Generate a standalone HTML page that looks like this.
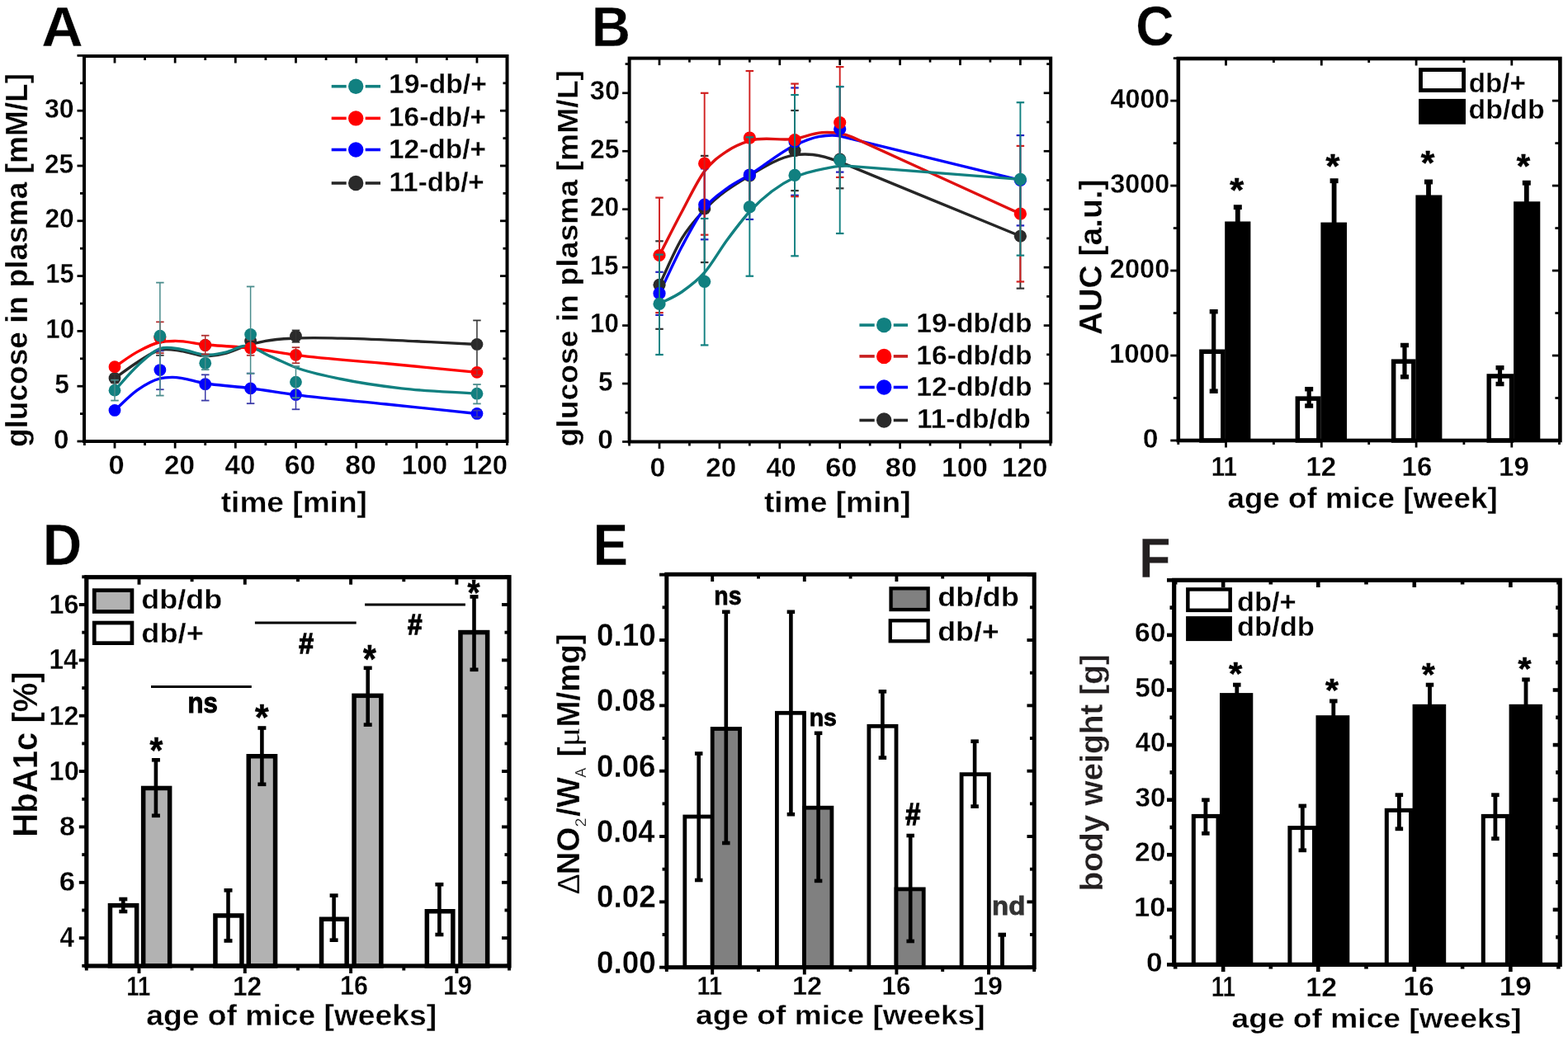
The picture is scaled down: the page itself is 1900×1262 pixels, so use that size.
<!DOCTYPE html>
<html><head><meta charset="utf-8"><title>Figure</title>
<style>html,body{margin:0;padding:0;background:#fff;}svg{display:block;}text{font-family:'Liberation Sans', Arial, Helvetica, sans-serif;} text.e{stroke:#fff;stroke-width:0.3px;}</style>
</head><body>
<svg width="1900" height="1262" viewBox="0 0 1900 1262">
<rect width="1900" height="1262" fill="#fff"/>
<text class="e" transform="translate(50.16,55.70) scale(1.0083,1)" font-size="69.33" font-weight="bold" fill="#000" >A</text>
<text class="e" transform="translate(716.72,55.70) scale(0.9437,1)" font-size="69.33" font-weight="bold" fill="#000" >B</text>
<text class="e" transform="translate(1376.28,55.32) scale(0.9219,1)" font-size="69.35" font-weight="bold" fill="#000" >C</text>
<text class="e" transform="translate(51.72,685.20) scale(0.9395,1)" font-size="69.77" font-weight="bold" fill="#000" >D</text>
<text class="e" transform="translate(718.77,685.20) scale(0.9069,1)" font-size="69.77" font-weight="bold" fill="#000" >E</text>
<text class="e" transform="translate(1379.89,700.20) scale(0.9070,1)" font-size="69.33" font-weight="bold" fill="#231f20" >F</text>
<path d="M139.00,497.46 C148.27,489.18 157.53,479.08 166.80,472.61 C175.82,466.31 184.85,461.05 193.87,458.85 C198.75,457.66 203.62,457.50 208.50,457.38 C221.91,457.04 235.33,462.69 248.74,464.73 C267.03,467.50 285.32,468.42 303.61,470.74 C321.90,473.05 340.19,476.24 358.48,478.62 C395.06,483.39 431.64,486.17 468.22,489.98 C504.80,493.78 541.38,497.64 577.96,501.47" fill="none" stroke="#0000ff" stroke-width="3.4" stroke-linejoin="round"/>
<path d="M139.00,458.58 C148.27,452.03 157.53,444.72 166.80,438.94 C175.82,433.32 184.85,426.41 193.87,424.25 C202.41,422.20 210.94,424.40 219.48,425.45 C229.23,426.65 238.99,431.34 248.74,431.59 C257.28,431.81 265.81,430.39 274.35,428.12 C281.66,426.18 288.98,422.17 296.29,419.84 C304.83,417.12 313.36,415.00 321.90,413.42 C334.09,411.17 346.29,410.75 358.48,410.08 C376.77,409.08 395.06,409.80 413.35,410.08 C443.83,410.55 474.32,412.44 504.80,413.82 C529.19,414.94 553.57,416.23 577.96,417.43" fill="none" stroke="#262626" stroke-width="3.4" stroke-linejoin="round"/>
<path d="M139.00,444.69 C148.27,438.59 157.53,431.41 166.80,426.38 C175.82,421.49 184.85,416.72 193.87,414.76 C199.97,413.44 206.06,413.48 212.16,413.42 C224.35,413.32 236.55,416.58 248.74,417.83 C267.03,419.71 285.32,419.88 303.61,421.97 C321.90,424.07 340.19,427.94 358.48,430.39 C395.06,435.29 431.64,437.32 468.22,440.81 C504.80,444.31 541.38,447.85 577.96,451.37" fill="none" stroke="#ff0000" stroke-width="3.4" stroke-linejoin="round"/>
<path d="M139.00,473.14 C148.27,463.17 157.53,451.71 166.80,443.22 C175.82,434.95 184.85,425.83 193.87,422.64 C202.41,419.63 210.94,422.37 219.48,423.44 C229.23,424.67 238.99,429.90 248.74,430.26 C257.28,430.57 265.81,428.83 274.35,426.78 C281.66,425.03 288.98,419.85 296.29,419.57 C307.27,419.15 318.24,428.06 329.22,432.66 C338.97,436.75 348.73,441.83 358.48,445.49 C376.77,452.34 395.06,455.63 413.35,459.52 C437.74,464.70 462.12,468.02 486.51,470.87 C516.99,474.43 547.48,475.06 577.96,477.15" fill="none" stroke="#118080" stroke-width="3.4" stroke-linejoin="round"/>
<circle cx="139.00" cy="497.46" r="7.4" fill="#0000ff"/>
<circle cx="193.87" cy="448.56" r="7.4" fill="#0000ff"/>
<circle cx="248.74" cy="465.66" r="7.4" fill="#0000ff"/>
<circle cx="303.61" cy="470.87" r="7.4" fill="#0000ff"/>
<circle cx="358.48" cy="478.62" r="7.4" fill="#0000ff"/>
<circle cx="577.96" cy="501.47" r="7.4" fill="#0000ff"/>
<line x1="193.87" y1="425.45" x2="193.87" y2="472.21" stroke="#3a3aa8" stroke-width="1.5" stroke-linecap="butt"/>
<line x1="189.12" y1="425.45" x2="198.62" y2="425.45" stroke="#3a3aa8" stroke-width="1.8" stroke-linecap="butt"/>
<line x1="189.12" y1="472.21" x2="198.62" y2="472.21" stroke="#3a3aa8" stroke-width="1.8" stroke-linecap="butt"/>
<line x1="248.74" y1="454.31" x2="248.74" y2="485.57" stroke="#3a3aa8" stroke-width="1.5" stroke-linecap="butt"/>
<line x1="243.99" y1="454.31" x2="253.49" y2="454.31" stroke="#3a3aa8" stroke-width="1.8" stroke-linecap="butt"/>
<line x1="243.99" y1="485.57" x2="253.49" y2="485.57" stroke="#3a3aa8" stroke-width="1.8" stroke-linecap="butt"/>
<line x1="303.61" y1="452.57" x2="303.61" y2="489.18" stroke="#3a3aa8" stroke-width="1.5" stroke-linecap="butt"/>
<line x1="298.86" y1="452.57" x2="308.36" y2="452.57" stroke="#3a3aa8" stroke-width="1.8" stroke-linecap="butt"/>
<line x1="298.86" y1="489.18" x2="308.36" y2="489.18" stroke="#3a3aa8" stroke-width="1.8" stroke-linecap="butt"/>
<line x1="358.48" y1="461.52" x2="358.48" y2="496.26" stroke="#3a3aa8" stroke-width="1.5" stroke-linecap="butt"/>
<line x1="353.73" y1="461.52" x2="363.23" y2="461.52" stroke="#3a3aa8" stroke-width="1.8" stroke-linecap="butt"/>
<line x1="353.73" y1="496.26" x2="363.23" y2="496.26" stroke="#3a3aa8" stroke-width="1.8" stroke-linecap="butt"/>
<line x1="577.96" y1="497.59" x2="577.96" y2="505.61" stroke="#3a3aa8" stroke-width="1.5" stroke-linecap="butt"/>
<line x1="573.21" y1="497.59" x2="582.71" y2="497.59" stroke="#3a3aa8" stroke-width="1.8" stroke-linecap="butt"/>
<line x1="573.21" y1="505.61" x2="582.71" y2="505.61" stroke="#3a3aa8" stroke-width="1.8" stroke-linecap="butt"/>
<circle cx="139.00" cy="458.58" r="7.4" fill="#2a2a2a"/>
<circle cx="193.87" cy="408.75" r="7.4" fill="#2a2a2a"/>
<circle cx="248.74" cy="418.50" r="7.4" fill="#2a2a2a"/>
<circle cx="303.61" cy="413.42" r="7.4" fill="#2a2a2a"/>
<circle cx="358.48" cy="407.41" r="7.4" fill="#2a2a2a"/>
<circle cx="577.96" cy="417.43" r="7.4" fill="#2a2a2a"/>
<line x1="139.00" y1="453.50" x2="139.00" y2="464.19" stroke="#333333" stroke-width="1.5" stroke-linecap="butt"/>
<line x1="134.25" y1="453.50" x2="143.75" y2="453.50" stroke="#333333" stroke-width="1.8" stroke-linecap="butt"/>
<line x1="134.25" y1="464.19" x2="143.75" y2="464.19" stroke="#333333" stroke-width="1.8" stroke-linecap="butt"/>
<line x1="193.87" y1="414.76" x2="193.87" y2="430.79" stroke="#333333" stroke-width="1.5" stroke-linecap="butt"/>
<line x1="189.12" y1="414.76" x2="198.62" y2="414.76" stroke="#333333" stroke-width="1.8" stroke-linecap="butt"/>
<line x1="189.12" y1="430.79" x2="198.62" y2="430.79" stroke="#333333" stroke-width="1.8" stroke-linecap="butt"/>
<line x1="303.61" y1="402.74" x2="303.61" y2="420.10" stroke="#333333" stroke-width="1.5" stroke-linecap="butt"/>
<line x1="298.86" y1="402.74" x2="308.36" y2="402.74" stroke="#333333" stroke-width="1.8" stroke-linecap="butt"/>
<line x1="298.86" y1="420.10" x2="308.36" y2="420.10" stroke="#333333" stroke-width="1.8" stroke-linecap="butt"/>
<line x1="358.48" y1="400.46" x2="358.48" y2="414.76" stroke="#333333" stroke-width="1.5" stroke-linecap="butt"/>
<line x1="353.73" y1="400.46" x2="363.23" y2="400.46" stroke="#333333" stroke-width="1.8" stroke-linecap="butt"/>
<line x1="353.73" y1="414.76" x2="363.23" y2="414.76" stroke="#333333" stroke-width="1.8" stroke-linecap="butt"/>
<line x1="577.96" y1="388.44" x2="577.96" y2="446.82" stroke="#333333" stroke-width="1.5" stroke-linecap="butt"/>
<line x1="573.21" y1="388.44" x2="582.71" y2="388.44" stroke="#333333" stroke-width="1.8" stroke-linecap="butt"/>
<line x1="573.21" y1="446.82" x2="582.71" y2="446.82" stroke="#333333" stroke-width="1.8" stroke-linecap="butt"/>
<circle cx="139.00" cy="444.69" r="7.4" fill="#ff0000"/>
<circle cx="193.87" cy="409.42" r="7.4" fill="#ff0000"/>
<circle cx="248.74" cy="418.50" r="7.4" fill="#ff0000"/>
<circle cx="303.61" cy="421.97" r="7.4" fill="#ff0000"/>
<circle cx="358.48" cy="430.39" r="7.4" fill="#ff0000"/>
<circle cx="577.96" cy="451.37" r="7.4" fill="#ff0000"/>
<line x1="193.87" y1="390.31" x2="193.87" y2="428.12" stroke="#b03030" stroke-width="1.5" stroke-linecap="butt"/>
<line x1="189.12" y1="390.31" x2="198.62" y2="390.31" stroke="#b03030" stroke-width="1.8" stroke-linecap="butt"/>
<line x1="189.12" y1="428.12" x2="198.62" y2="428.12" stroke="#b03030" stroke-width="1.8" stroke-linecap="butt"/>
<line x1="248.74" y1="406.74" x2="248.74" y2="429.46" stroke="#b03030" stroke-width="1.5" stroke-linecap="butt"/>
<line x1="243.99" y1="406.74" x2="253.49" y2="406.74" stroke="#b03030" stroke-width="1.8" stroke-linecap="butt"/>
<line x1="243.99" y1="429.46" x2="253.49" y2="429.46" stroke="#b03030" stroke-width="1.8" stroke-linecap="butt"/>
<line x1="303.61" y1="412.09" x2="303.61" y2="430.79" stroke="#b03030" stroke-width="1.5" stroke-linecap="butt"/>
<line x1="298.86" y1="412.09" x2="308.36" y2="412.09" stroke="#b03030" stroke-width="1.8" stroke-linecap="butt"/>
<line x1="298.86" y1="430.79" x2="308.36" y2="430.79" stroke="#b03030" stroke-width="1.8" stroke-linecap="butt"/>
<line x1="358.48" y1="421.17" x2="358.48" y2="440.28" stroke="#b03030" stroke-width="1.5" stroke-linecap="butt"/>
<line x1="353.73" y1="421.17" x2="363.23" y2="421.17" stroke="#b03030" stroke-width="1.8" stroke-linecap="butt"/>
<line x1="353.73" y1="440.28" x2="363.23" y2="440.28" stroke="#b03030" stroke-width="1.8" stroke-linecap="butt"/>
<line x1="577.96" y1="448.16" x2="577.96" y2="454.84" stroke="#b03030" stroke-width="1.5" stroke-linecap="butt"/>
<line x1="573.21" y1="448.16" x2="582.71" y2="448.16" stroke="#b03030" stroke-width="1.8" stroke-linecap="butt"/>
<line x1="573.21" y1="454.84" x2="582.71" y2="454.84" stroke="#b03030" stroke-width="1.8" stroke-linecap="butt"/>
<circle cx="139.00" cy="473.14" r="7.4" fill="#118080"/>
<circle cx="193.87" cy="407.14" r="7.4" fill="#118080"/>
<circle cx="248.74" cy="440.28" r="7.4" fill="#118080"/>
<circle cx="303.61" cy="405.41" r="7.4" fill="#118080"/>
<circle cx="358.48" cy="463.12" r="7.4" fill="#118080"/>
<circle cx="577.96" cy="477.15" r="7.4" fill="#118080"/>
<line x1="139.00" y1="460.72" x2="139.00" y2="485.57" stroke="#4a8c8c" stroke-width="1.5" stroke-linecap="butt"/>
<line x1="134.25" y1="460.72" x2="143.75" y2="460.72" stroke="#4a8c8c" stroke-width="1.8" stroke-linecap="butt"/>
<line x1="134.25" y1="485.57" x2="143.75" y2="485.57" stroke="#4a8c8c" stroke-width="1.8" stroke-linecap="butt"/>
<line x1="193.87" y1="342.62" x2="193.87" y2="479.56" stroke="#4a8c8c" stroke-width="1.5" stroke-linecap="butt"/>
<line x1="189.12" y1="342.62" x2="198.62" y2="342.62" stroke="#4a8c8c" stroke-width="1.8" stroke-linecap="butt"/>
<line x1="189.12" y1="479.56" x2="198.62" y2="479.56" stroke="#4a8c8c" stroke-width="1.8" stroke-linecap="butt"/>
<line x1="248.74" y1="432.13" x2="248.74" y2="448.16" stroke="#4a8c8c" stroke-width="1.5" stroke-linecap="butt"/>
<line x1="243.99" y1="432.13" x2="253.49" y2="432.13" stroke="#4a8c8c" stroke-width="1.8" stroke-linecap="butt"/>
<line x1="243.99" y1="448.16" x2="253.49" y2="448.16" stroke="#4a8c8c" stroke-width="1.8" stroke-linecap="butt"/>
<line x1="303.61" y1="347.43" x2="303.61" y2="452.84" stroke="#4a8c8c" stroke-width="1.5" stroke-linecap="butt"/>
<line x1="298.86" y1="347.43" x2="308.36" y2="347.43" stroke="#4a8c8c" stroke-width="1.8" stroke-linecap="butt"/>
<line x1="298.86" y1="452.84" x2="308.36" y2="452.84" stroke="#4a8c8c" stroke-width="1.8" stroke-linecap="butt"/>
<line x1="358.48" y1="444.02" x2="358.48" y2="482.23" stroke="#4a8c8c" stroke-width="1.5" stroke-linecap="butt"/>
<line x1="353.73" y1="444.02" x2="363.23" y2="444.02" stroke="#4a8c8c" stroke-width="1.8" stroke-linecap="butt"/>
<line x1="353.73" y1="482.23" x2="363.23" y2="482.23" stroke="#4a8c8c" stroke-width="1.8" stroke-linecap="butt"/>
<line x1="577.96" y1="466.06" x2="577.96" y2="489.44" stroke="#4a8c8c" stroke-width="1.5" stroke-linecap="butt"/>
<line x1="573.21" y1="466.06" x2="582.71" y2="466.06" stroke="#4a8c8c" stroke-width="1.8" stroke-linecap="butt"/>
<line x1="573.21" y1="489.44" x2="582.71" y2="489.44" stroke="#4a8c8c" stroke-width="1.8" stroke-linecap="butt"/>
<rect x="102.00" y="68.00" width="512.50" height="467.00" fill="none" stroke="#000" stroke-width="4"/>
<line x1="93.50" y1="535.00" x2="102.00" y2="535.00" stroke="#000" stroke-width="2.8" stroke-linecap="butt"/>
<line x1="614.50" y1="535.00" x2="606.00" y2="535.00" stroke="#000" stroke-width="2.8" stroke-linecap="butt"/>
<line x1="93.50" y1="468.20" x2="102.00" y2="468.20" stroke="#000" stroke-width="2.8" stroke-linecap="butt"/>
<line x1="614.50" y1="468.20" x2="606.00" y2="468.20" stroke="#000" stroke-width="2.8" stroke-linecap="butt"/>
<line x1="93.50" y1="401.40" x2="102.00" y2="401.40" stroke="#000" stroke-width="2.8" stroke-linecap="butt"/>
<line x1="614.50" y1="401.40" x2="606.00" y2="401.40" stroke="#000" stroke-width="2.8" stroke-linecap="butt"/>
<line x1="93.50" y1="334.60" x2="102.00" y2="334.60" stroke="#000" stroke-width="2.8" stroke-linecap="butt"/>
<line x1="614.50" y1="334.60" x2="606.00" y2="334.60" stroke="#000" stroke-width="2.8" stroke-linecap="butt"/>
<line x1="93.50" y1="267.80" x2="102.00" y2="267.80" stroke="#000" stroke-width="2.8" stroke-linecap="butt"/>
<line x1="614.50" y1="267.80" x2="606.00" y2="267.80" stroke="#000" stroke-width="2.8" stroke-linecap="butt"/>
<line x1="93.50" y1="201.00" x2="102.00" y2="201.00" stroke="#000" stroke-width="2.8" stroke-linecap="butt"/>
<line x1="614.50" y1="201.00" x2="606.00" y2="201.00" stroke="#000" stroke-width="2.8" stroke-linecap="butt"/>
<line x1="93.50" y1="134.20" x2="102.00" y2="134.20" stroke="#000" stroke-width="2.8" stroke-linecap="butt"/>
<line x1="614.50" y1="134.20" x2="606.00" y2="134.20" stroke="#000" stroke-width="2.8" stroke-linecap="butt"/>
<line x1="93.50" y1="67.40" x2="102.00" y2="67.40" stroke="#000" stroke-width="2.8" stroke-linecap="butt"/>
<line x1="614.50" y1="67.40" x2="606.00" y2="67.40" stroke="#000" stroke-width="2.8" stroke-linecap="butt"/>
<line x1="97.00" y1="501.60" x2="102.00" y2="501.60" stroke="#000" stroke-width="2.8" stroke-linecap="butt"/>
<line x1="614.50" y1="501.60" x2="609.50" y2="501.60" stroke="#000" stroke-width="2.8" stroke-linecap="butt"/>
<line x1="97.00" y1="434.80" x2="102.00" y2="434.80" stroke="#000" stroke-width="2.8" stroke-linecap="butt"/>
<line x1="614.50" y1="434.80" x2="609.50" y2="434.80" stroke="#000" stroke-width="2.8" stroke-linecap="butt"/>
<line x1="97.00" y1="368.00" x2="102.00" y2="368.00" stroke="#000" stroke-width="2.8" stroke-linecap="butt"/>
<line x1="614.50" y1="368.00" x2="609.50" y2="368.00" stroke="#000" stroke-width="2.8" stroke-linecap="butt"/>
<line x1="97.00" y1="301.20" x2="102.00" y2="301.20" stroke="#000" stroke-width="2.8" stroke-linecap="butt"/>
<line x1="614.50" y1="301.20" x2="609.50" y2="301.20" stroke="#000" stroke-width="2.8" stroke-linecap="butt"/>
<line x1="97.00" y1="234.40" x2="102.00" y2="234.40" stroke="#000" stroke-width="2.8" stroke-linecap="butt"/>
<line x1="614.50" y1="234.40" x2="609.50" y2="234.40" stroke="#000" stroke-width="2.8" stroke-linecap="butt"/>
<line x1="97.00" y1="167.60" x2="102.00" y2="167.60" stroke="#000" stroke-width="2.8" stroke-linecap="butt"/>
<line x1="614.50" y1="167.60" x2="609.50" y2="167.60" stroke="#000" stroke-width="2.8" stroke-linecap="butt"/>
<line x1="97.00" y1="100.80" x2="102.00" y2="100.80" stroke="#000" stroke-width="2.8" stroke-linecap="butt"/>
<line x1="614.50" y1="100.80" x2="609.50" y2="100.80" stroke="#000" stroke-width="2.8" stroke-linecap="butt"/>
<line x1="139.00" y1="535.00" x2="139.00" y2="543.50" stroke="#000" stroke-width="2.8" stroke-linecap="butt"/>
<line x1="139.00" y1="68.00" x2="139.00" y2="76.50" stroke="#000" stroke-width="2.8" stroke-linecap="butt"/>
<line x1="212.16" y1="535.00" x2="212.16" y2="543.50" stroke="#000" stroke-width="2.8" stroke-linecap="butt"/>
<line x1="212.16" y1="68.00" x2="212.16" y2="76.50" stroke="#000" stroke-width="2.8" stroke-linecap="butt"/>
<line x1="285.32" y1="535.00" x2="285.32" y2="543.50" stroke="#000" stroke-width="2.8" stroke-linecap="butt"/>
<line x1="285.32" y1="68.00" x2="285.32" y2="76.50" stroke="#000" stroke-width="2.8" stroke-linecap="butt"/>
<line x1="358.48" y1="535.00" x2="358.48" y2="543.50" stroke="#000" stroke-width="2.8" stroke-linecap="butt"/>
<line x1="358.48" y1="68.00" x2="358.48" y2="76.50" stroke="#000" stroke-width="2.8" stroke-linecap="butt"/>
<line x1="431.64" y1="535.00" x2="431.64" y2="543.50" stroke="#000" stroke-width="2.8" stroke-linecap="butt"/>
<line x1="431.64" y1="68.00" x2="431.64" y2="76.50" stroke="#000" stroke-width="2.8" stroke-linecap="butt"/>
<line x1="504.80" y1="535.00" x2="504.80" y2="543.50" stroke="#000" stroke-width="2.8" stroke-linecap="butt"/>
<line x1="504.80" y1="68.00" x2="504.80" y2="76.50" stroke="#000" stroke-width="2.8" stroke-linecap="butt"/>
<line x1="577.96" y1="535.00" x2="577.96" y2="543.50" stroke="#000" stroke-width="2.8" stroke-linecap="butt"/>
<line x1="577.96" y1="68.00" x2="577.96" y2="76.50" stroke="#000" stroke-width="2.8" stroke-linecap="butt"/>
<line x1="102.42" y1="535.00" x2="102.42" y2="540.00" stroke="#000" stroke-width="2.8" stroke-linecap="butt"/>
<line x1="102.42" y1="68.00" x2="102.42" y2="73.00" stroke="#000" stroke-width="2.8" stroke-linecap="butt"/>
<line x1="175.58" y1="535.00" x2="175.58" y2="540.00" stroke="#000" stroke-width="2.8" stroke-linecap="butt"/>
<line x1="175.58" y1="68.00" x2="175.58" y2="73.00" stroke="#000" stroke-width="2.8" stroke-linecap="butt"/>
<line x1="248.74" y1="535.00" x2="248.74" y2="540.00" stroke="#000" stroke-width="2.8" stroke-linecap="butt"/>
<line x1="248.74" y1="68.00" x2="248.74" y2="73.00" stroke="#000" stroke-width="2.8" stroke-linecap="butt"/>
<line x1="321.90" y1="535.00" x2="321.90" y2="540.00" stroke="#000" stroke-width="2.8" stroke-linecap="butt"/>
<line x1="321.90" y1="68.00" x2="321.90" y2="73.00" stroke="#000" stroke-width="2.8" stroke-linecap="butt"/>
<line x1="395.06" y1="535.00" x2="395.06" y2="540.00" stroke="#000" stroke-width="2.8" stroke-linecap="butt"/>
<line x1="395.06" y1="68.00" x2="395.06" y2="73.00" stroke="#000" stroke-width="2.8" stroke-linecap="butt"/>
<line x1="468.22" y1="535.00" x2="468.22" y2="540.00" stroke="#000" stroke-width="2.8" stroke-linecap="butt"/>
<line x1="468.22" y1="68.00" x2="468.22" y2="73.00" stroke="#000" stroke-width="2.8" stroke-linecap="butt"/>
<line x1="541.38" y1="535.00" x2="541.38" y2="540.00" stroke="#000" stroke-width="2.8" stroke-linecap="butt"/>
<line x1="541.38" y1="68.00" x2="541.38" y2="73.00" stroke="#000" stroke-width="2.8" stroke-linecap="butt"/>
<line x1="614.54" y1="535.00" x2="614.54" y2="540.00" stroke="#000" stroke-width="2.8" stroke-linecap="butt"/>
<line x1="614.54" y1="68.00" x2="614.54" y2="73.00" stroke="#000" stroke-width="2.8" stroke-linecap="butt"/>
<text class="e" transform="translate(64.89,543.67) scale(0.9968,1)" font-size="33.33" font-weight="bold" fill="#000" >0</text>
<text class="e" transform="translate(66.22,476.87) scale(0.9389,1)" font-size="33.82" font-weight="bold" fill="#000" >5</text>
<text class="e" transform="translate(55.22,410.07) scale(0.9433,1)" font-size="33.33" font-weight="bold" fill="#000" >10</text>
<text class="e" transform="translate(55.26,343.27) scale(0.9118,1)" font-size="33.82" font-weight="bold" fill="#000" >15</text>
<text class="e" transform="translate(54.40,276.47) scale(0.9551,1)" font-size="33.33" font-weight="bold" fill="#000" >20</text>
<text class="e" transform="translate(53.90,209.67) scale(0.9517,1)" font-size="33.33" font-weight="bold" fill="#000" >25</text>
<text class="e" transform="translate(53.96,142.83) scale(0.9636,1)" font-size="33.26" font-weight="bold" fill="#000" >30</text>
<text class="e" transform="translate(131.44,575.17) scale(1.0303,1)" font-size="33.47" font-weight="bold" fill="#000" >0</text>
<text class="e" transform="translate(199.05,575.17) scale(0.9944,1)" font-size="33.47" font-weight="bold" fill="#000" >20</text>
<text class="e" transform="translate(272.60,575.17) scale(0.9873,1)" font-size="33.47" font-weight="bold" fill="#000" >40</text>
<text class="e" transform="translate(344.66,575.17) scale(1.0107,1)" font-size="33.47" font-weight="bold" fill="#000" >60</text>
<text class="e" transform="translate(418.13,575.17) scale(1.0088,1)" font-size="33.47" font-weight="bold" fill="#000" >80</text>
<text class="e" transform="translate(486.81,575.17) scale(0.9912,1)" font-size="33.47" font-weight="bold" fill="#000" >100</text>
<text class="e" transform="translate(560.13,575.17) scale(0.9816,1)" font-size="33.47" font-weight="bold" fill="#000" >120</text>
<line x1="401.70" y1="104.70" x2="419.70" y2="104.70" stroke="#118080" stroke-width="3.6" stroke-linecap="butt"/>
<line x1="442.70" y1="104.70" x2="461.00" y2="104.70" stroke="#118080" stroke-width="3.6" stroke-linecap="butt"/>
<circle cx="431.20" cy="104.70" r="9.2" fill="#118080"/>
<text class="e" transform="translate(470.98,113.20) scale(0.9968,1)" font-size="33.8" font-weight="bold" fill="#000" >19-db/+</text>
<line x1="401.70" y1="143.40" x2="419.70" y2="143.40" stroke="#ff0000" stroke-width="3.6" stroke-linecap="butt"/>
<line x1="442.70" y1="143.40" x2="461.00" y2="143.40" stroke="#ff0000" stroke-width="3.6" stroke-linecap="butt"/>
<circle cx="431.20" cy="143.40" r="9.2" fill="#ff0000"/>
<text class="e" transform="translate(470.99,152.90) scale(0.9907,1)" font-size="33.8" font-weight="bold" fill="#000" >16-db/+</text>
<line x1="401.70" y1="181.50" x2="419.70" y2="181.50" stroke="#0000ff" stroke-width="3.6" stroke-linecap="butt"/>
<line x1="442.70" y1="181.50" x2="461.00" y2="181.50" stroke="#0000ff" stroke-width="3.6" stroke-linecap="butt"/>
<circle cx="431.20" cy="181.50" r="9.2" fill="#0000ff"/>
<text class="e" transform="translate(470.99,191.60) scale(0.9907,1)" font-size="33.8" font-weight="bold" fill="#000" >12-db/+</text>
<line x1="401.70" y1="222.00" x2="419.70" y2="222.00" stroke="#262626" stroke-width="3.6" stroke-linecap="butt"/>
<line x1="442.70" y1="222.00" x2="461.00" y2="222.00" stroke="#262626" stroke-width="3.6" stroke-linecap="butt"/>
<circle cx="431.20" cy="222.00" r="9.2" fill="#2a2a2a"/>
<text class="e" transform="translate(471.61,231.50) scale(0.9804,1)" font-size="33.8" font-weight="bold" fill="#000" >11-db/+</text>
<text class="e" transform="translate(33.25,542.12) rotate(-90) scale(1.0275,1)" font-size="36.09" font-weight="bold" fill="#000">glucose in plasma [mM/L]</text>
<text class="e" transform="translate(267.75,621.14) scale(1.0608,1)" font-size="34.97" font-weight="bold" fill="#000" >time [min]</text>
<path d="M799.00,345.28 C808.11,326.50 817.23,304.07 826.34,288.93 C835.45,273.78 844.56,264.38 853.67,254.40 C871.90,234.44 890.12,223.92 908.35,212.84 C926.58,201.75 944.80,190.53 963.02,187.90 C970.31,186.85 977.61,186.82 984.89,187.48 C998.75,188.73 1012.60,194.18 1026.45,199.88 C1096.43,228.67 1166.42,257.46 1236.40,286.25" fill="none" stroke="#262626" stroke-width="3.4" stroke-linejoin="round"/>
<path d="M799.00,355.71 C808.11,336.74 817.23,316.02 826.34,298.79 C835.45,281.55 844.56,264.03 853.67,252.29 C862.79,240.55 871.90,235.05 881.01,228.34 C890.12,221.62 899.24,217.61 908.35,211.99 C926.58,200.75 944.80,184.66 963.02,176.20 C972.75,171.69 982.46,167.41 992.18,165.64 C1000.57,164.10 1008.95,162.88 1017.34,164.93 C1090.36,182.78 1163.38,200.63 1236.40,218.48" fill="none" stroke="#0000ff" stroke-width="3.4" stroke-linejoin="round"/>
<path d="M799.00,309.50 C808.11,291.84 817.23,273.50 826.34,256.52 C835.45,239.54 844.56,219.84 853.67,207.63 C862.79,195.41 871.90,189.40 881.01,183.25 C890.12,177.10 899.24,173.63 908.35,170.71 C926.58,164.87 944.80,171.26 963.02,168.31 C973.96,166.55 984.89,161.28 995.83,160.71 C1008.22,160.06 1020.62,160.68 1033.01,166.34 C1100.81,197.29 1168.60,228.24 1236.40,259.20" fill="none" stroke="#e01010" stroke-width="3.4" stroke-linejoin="round"/>
<path d="M799.00,368.39 C808.11,363.51 817.23,360.06 826.34,353.74 C835.45,347.42 844.56,340.94 853.67,330.49 C862.79,320.04 871.90,303.37 881.01,291.04 C890.12,278.71 899.24,266.50 908.35,256.52 C926.58,236.56 944.80,223.66 963.02,214.95 C975.17,209.14 987.33,206.72 999.48,204.38 C1008.47,202.66 1017.46,200.45 1026.45,201.14 C1096.43,206.55 1166.42,211.95 1236.40,217.35" fill="none" stroke="#118080" stroke-width="3.4" stroke-linejoin="round"/>
<circle cx="799.00" cy="345.28" r="7.6" fill="#2a2a2a"/>
<circle cx="853.67" cy="253.00" r="7.6" fill="#2a2a2a"/>
<circle cx="908.35" cy="212.84" r="7.6" fill="#2a2a2a"/>
<circle cx="963.02" cy="182.55" r="7.6" fill="#2a2a2a"/>
<circle cx="1017.70" cy="193.11" r="7.6" fill="#2a2a2a"/>
<circle cx="1236.40" cy="286.25" r="7.6" fill="#2a2a2a"/>
<line x1="799.00" y1="292.31" x2="799.00" y2="398.83" stroke="#333333" stroke-width="1.9" stroke-linecap="butt"/>
<line x1="794.25" y1="292.31" x2="803.75" y2="292.31" stroke="#333333" stroke-width="2.1999999999999997" stroke-linecap="butt"/>
<line x1="794.25" y1="398.83" x2="803.75" y2="398.83" stroke="#333333" stroke-width="2.1999999999999997" stroke-linecap="butt"/>
<line x1="853.67" y1="188.89" x2="853.67" y2="318.09" stroke="#333333" stroke-width="1.9" stroke-linecap="butt"/>
<line x1="848.92" y1="188.89" x2="858.42" y2="188.89" stroke="#333333" stroke-width="2.1999999999999997" stroke-linecap="butt"/>
<line x1="848.92" y1="318.09" x2="858.42" y2="318.09" stroke="#333333" stroke-width="2.1999999999999997" stroke-linecap="butt"/>
<line x1="908.35" y1="171.98" x2="908.35" y2="253.70" stroke="#333333" stroke-width="1.9" stroke-linecap="butt"/>
<line x1="903.60" y1="171.98" x2="913.10" y2="171.98" stroke="#333333" stroke-width="2.1999999999999997" stroke-linecap="butt"/>
<line x1="903.60" y1="253.70" x2="913.10" y2="253.70" stroke="#333333" stroke-width="2.1999999999999997" stroke-linecap="butt"/>
<line x1="963.02" y1="133.94" x2="963.02" y2="231.16" stroke="#333333" stroke-width="1.9" stroke-linecap="butt"/>
<line x1="958.27" y1="133.94" x2="967.77" y2="133.94" stroke="#333333" stroke-width="2.1999999999999997" stroke-linecap="butt"/>
<line x1="958.27" y1="231.16" x2="967.77" y2="231.16" stroke="#333333" stroke-width="2.1999999999999997" stroke-linecap="butt"/>
<line x1="1017.70" y1="157.89" x2="1017.70" y2="228.34" stroke="#333333" stroke-width="1.9" stroke-linecap="butt"/>
<line x1="1012.95" y1="157.89" x2="1022.45" y2="157.89" stroke="#333333" stroke-width="2.1999999999999997" stroke-linecap="butt"/>
<line x1="1012.95" y1="228.34" x2="1022.45" y2="228.34" stroke="#333333" stroke-width="2.1999999999999997" stroke-linecap="butt"/>
<line x1="1236.40" y1="222.70" x2="1236.40" y2="349.65" stroke="#333333" stroke-width="1.9" stroke-linecap="butt"/>
<line x1="1231.65" y1="222.70" x2="1241.15" y2="222.70" stroke="#333333" stroke-width="2.1999999999999997" stroke-linecap="butt"/>
<line x1="1231.65" y1="349.65" x2="1241.15" y2="349.65" stroke="#333333" stroke-width="2.1999999999999997" stroke-linecap="butt"/>
<circle cx="799.00" cy="355.71" r="7.6" fill="#0000ff"/>
<circle cx="853.67" cy="248.06" r="7.6" fill="#0000ff"/>
<circle cx="908.35" cy="211.99" r="7.6" fill="#0000ff"/>
<circle cx="963.02" cy="171.98" r="7.6" fill="#0000ff"/>
<circle cx="1017.70" cy="156.48" r="7.6" fill="#0000ff"/>
<circle cx="1236.40" cy="218.48" r="7.6" fill="#0000ff"/>
<line x1="799.00" y1="329.79" x2="799.00" y2="381.92" stroke="#2020c0" stroke-width="1.9" stroke-linecap="butt"/>
<line x1="794.25" y1="329.79" x2="803.75" y2="329.79" stroke="#2020c0" stroke-width="2.1999999999999997" stroke-linecap="butt"/>
<line x1="794.25" y1="381.92" x2="803.75" y2="381.92" stroke="#2020c0" stroke-width="2.1999999999999997" stroke-linecap="butt"/>
<line x1="853.67" y1="204.38" x2="853.67" y2="290.33" stroke="#2020c0" stroke-width="1.9" stroke-linecap="butt"/>
<line x1="848.92" y1="204.38" x2="858.42" y2="204.38" stroke="#2020c0" stroke-width="2.1999999999999997" stroke-linecap="butt"/>
<line x1="848.92" y1="290.33" x2="858.42" y2="290.33" stroke="#2020c0" stroke-width="2.1999999999999997" stroke-linecap="butt"/>
<line x1="908.35" y1="162.12" x2="908.35" y2="265.96" stroke="#2020c0" stroke-width="1.9" stroke-linecap="butt"/>
<line x1="903.60" y1="162.12" x2="913.10" y2="162.12" stroke="#2020c0" stroke-width="2.1999999999999997" stroke-linecap="butt"/>
<line x1="903.60" y1="265.96" x2="913.10" y2="265.96" stroke="#2020c0" stroke-width="2.1999999999999997" stroke-linecap="butt"/>
<line x1="963.02" y1="106.46" x2="963.02" y2="236.79" stroke="#2020c0" stroke-width="1.9" stroke-linecap="butt"/>
<line x1="958.27" y1="106.46" x2="967.77" y2="106.46" stroke="#2020c0" stroke-width="2.1999999999999997" stroke-linecap="butt"/>
<line x1="958.27" y1="236.79" x2="967.77" y2="236.79" stroke="#2020c0" stroke-width="2.1999999999999997" stroke-linecap="butt"/>
<line x1="1017.70" y1="105.05" x2="1017.70" y2="208.61" stroke="#2020c0" stroke-width="1.9" stroke-linecap="butt"/>
<line x1="1012.95" y1="105.05" x2="1022.45" y2="105.05" stroke="#2020c0" stroke-width="2.1999999999999997" stroke-linecap="butt"/>
<line x1="1012.95" y1="208.61" x2="1022.45" y2="208.61" stroke="#2020c0" stroke-width="2.1999999999999997" stroke-linecap="butt"/>
<line x1="1236.40" y1="164.09" x2="1236.40" y2="273.43" stroke="#2020c0" stroke-width="1.9" stroke-linecap="butt"/>
<line x1="1231.65" y1="164.09" x2="1241.15" y2="164.09" stroke="#2020c0" stroke-width="2.1999999999999997" stroke-linecap="butt"/>
<line x1="1231.65" y1="273.43" x2="1241.15" y2="273.43" stroke="#2020c0" stroke-width="2.1999999999999997" stroke-linecap="butt"/>
<circle cx="799.00" cy="309.50" r="7.6" fill="#ff0000"/>
<circle cx="853.67" cy="198.19" r="7.6" fill="#ff0000"/>
<circle cx="908.35" cy="167.05" r="7.6" fill="#ff0000"/>
<circle cx="963.02" cy="169.58" r="7.6" fill="#ff0000"/>
<circle cx="1017.70" cy="148.59" r="7.6" fill="#ff0000"/>
<circle cx="1236.40" cy="259.20" r="7.6" fill="#ff0000"/>
<line x1="799.00" y1="239.61" x2="799.00" y2="379.10" stroke="#d02020" stroke-width="1.9" stroke-linecap="butt"/>
<line x1="794.25" y1="239.61" x2="803.75" y2="239.61" stroke="#d02020" stroke-width="2.1999999999999997" stroke-linecap="butt"/>
<line x1="794.25" y1="379.10" x2="803.75" y2="379.10" stroke="#d02020" stroke-width="2.1999999999999997" stroke-linecap="butt"/>
<line x1="853.67" y1="112.80" x2="853.67" y2="284.70" stroke="#d02020" stroke-width="1.9" stroke-linecap="butt"/>
<line x1="848.92" y1="112.80" x2="858.42" y2="112.80" stroke="#d02020" stroke-width="2.1999999999999997" stroke-linecap="butt"/>
<line x1="848.92" y1="284.70" x2="858.42" y2="284.70" stroke="#d02020" stroke-width="2.1999999999999997" stroke-linecap="butt"/>
<line x1="908.35" y1="86.03" x2="908.35" y2="248.06" stroke="#d02020" stroke-width="1.9" stroke-linecap="butt"/>
<line x1="903.60" y1="86.03" x2="913.10" y2="86.03" stroke="#d02020" stroke-width="2.1999999999999997" stroke-linecap="butt"/>
<line x1="903.60" y1="248.06" x2="913.10" y2="248.06" stroke="#d02020" stroke-width="2.1999999999999997" stroke-linecap="butt"/>
<line x1="963.02" y1="101.53" x2="963.02" y2="238.20" stroke="#d02020" stroke-width="1.9" stroke-linecap="butt"/>
<line x1="958.27" y1="101.53" x2="967.77" y2="101.53" stroke="#d02020" stroke-width="2.1999999999999997" stroke-linecap="butt"/>
<line x1="958.27" y1="238.20" x2="967.77" y2="238.20" stroke="#d02020" stroke-width="2.1999999999999997" stroke-linecap="butt"/>
<line x1="1017.70" y1="81.10" x2="1017.70" y2="214.95" stroke="#d02020" stroke-width="1.9" stroke-linecap="butt"/>
<line x1="1012.95" y1="81.10" x2="1022.45" y2="81.10" stroke="#d02020" stroke-width="2.1999999999999997" stroke-linecap="butt"/>
<line x1="1012.95" y1="214.95" x2="1022.45" y2="214.95" stroke="#d02020" stroke-width="2.1999999999999997" stroke-linecap="butt"/>
<line x1="1236.40" y1="176.91" x2="1236.40" y2="341.48" stroke="#d02020" stroke-width="1.9" stroke-linecap="butt"/>
<line x1="1231.65" y1="176.91" x2="1241.15" y2="176.91" stroke="#d02020" stroke-width="2.1999999999999997" stroke-linecap="butt"/>
<line x1="1231.65" y1="341.48" x2="1241.15" y2="341.48" stroke="#d02020" stroke-width="2.1999999999999997" stroke-linecap="butt"/>
<circle cx="799.00" cy="368.39" r="7.6" fill="#118080"/>
<circle cx="853.67" cy="341.34" r="7.6" fill="#118080"/>
<circle cx="908.35" cy="250.88" r="7.6" fill="#118080"/>
<circle cx="963.02" cy="212.42" r="7.6" fill="#118080"/>
<circle cx="1017.70" cy="194.10" r="7.6" fill="#118080"/>
<circle cx="1236.40" cy="217.35" r="7.6" fill="#118080"/>
<line x1="799.00" y1="308.65" x2="799.00" y2="429.97" stroke="#118080" stroke-width="1.9" stroke-linecap="butt"/>
<line x1="794.25" y1="308.65" x2="803.75" y2="308.65" stroke="#118080" stroke-width="2.1999999999999997" stroke-linecap="butt"/>
<line x1="794.25" y1="429.97" x2="803.75" y2="429.97" stroke="#118080" stroke-width="2.1999999999999997" stroke-linecap="butt"/>
<line x1="853.67" y1="264.97" x2="853.67" y2="418.41" stroke="#118080" stroke-width="1.9" stroke-linecap="butt"/>
<line x1="848.92" y1="264.97" x2="858.42" y2="264.97" stroke="#118080" stroke-width="2.1999999999999997" stroke-linecap="butt"/>
<line x1="848.92" y1="418.41" x2="858.42" y2="418.41" stroke="#118080" stroke-width="2.1999999999999997" stroke-linecap="butt"/>
<line x1="908.35" y1="166.34" x2="908.35" y2="334.72" stroke="#118080" stroke-width="1.9" stroke-linecap="butt"/>
<line x1="903.60" y1="166.34" x2="913.10" y2="166.34" stroke="#118080" stroke-width="2.1999999999999997" stroke-linecap="butt"/>
<line x1="903.60" y1="334.72" x2="913.10" y2="334.72" stroke="#118080" stroke-width="2.1999999999999997" stroke-linecap="butt"/>
<line x1="963.02" y1="115.05" x2="963.02" y2="310.34" stroke="#118080" stroke-width="1.9" stroke-linecap="butt"/>
<line x1="958.27" y1="115.05" x2="967.77" y2="115.05" stroke="#118080" stroke-width="2.1999999999999997" stroke-linecap="butt"/>
<line x1="958.27" y1="310.34" x2="967.77" y2="310.34" stroke="#118080" stroke-width="2.1999999999999997" stroke-linecap="butt"/>
<line x1="1017.70" y1="105.05" x2="1017.70" y2="283.01" stroke="#118080" stroke-width="1.9" stroke-linecap="butt"/>
<line x1="1012.95" y1="105.05" x2="1022.45" y2="105.05" stroke="#118080" stroke-width="2.1999999999999997" stroke-linecap="butt"/>
<line x1="1012.95" y1="283.01" x2="1022.45" y2="283.01" stroke="#118080" stroke-width="2.1999999999999997" stroke-linecap="butt"/>
<line x1="1236.40" y1="124.21" x2="1236.40" y2="309.64" stroke="#118080" stroke-width="1.9" stroke-linecap="butt"/>
<line x1="1231.65" y1="124.21" x2="1241.15" y2="124.21" stroke="#118080" stroke-width="2.1999999999999997" stroke-linecap="butt"/>
<line x1="1231.65" y1="309.64" x2="1241.15" y2="309.64" stroke="#118080" stroke-width="2.1999999999999997" stroke-linecap="butt"/>
<rect x="762.60" y="70.60" width="510.60" height="464.90" fill="none" stroke="#000" stroke-width="4"/>
<line x1="754.10" y1="535.50" x2="762.60" y2="535.50" stroke="#000" stroke-width="2.7" stroke-linecap="butt"/>
<line x1="1273.20" y1="535.50" x2="1264.70" y2="535.50" stroke="#000" stroke-width="2.7" stroke-linecap="butt"/>
<line x1="754.10" y1="465.05" x2="762.60" y2="465.05" stroke="#000" stroke-width="2.7" stroke-linecap="butt"/>
<line x1="1273.20" y1="465.05" x2="1264.70" y2="465.05" stroke="#000" stroke-width="2.7" stroke-linecap="butt"/>
<line x1="754.10" y1="394.60" x2="762.60" y2="394.60" stroke="#000" stroke-width="2.7" stroke-linecap="butt"/>
<line x1="1273.20" y1="394.60" x2="1264.70" y2="394.60" stroke="#000" stroke-width="2.7" stroke-linecap="butt"/>
<line x1="754.10" y1="324.15" x2="762.60" y2="324.15" stroke="#000" stroke-width="2.7" stroke-linecap="butt"/>
<line x1="1273.20" y1="324.15" x2="1264.70" y2="324.15" stroke="#000" stroke-width="2.7" stroke-linecap="butt"/>
<line x1="754.10" y1="253.70" x2="762.60" y2="253.70" stroke="#000" stroke-width="2.7" stroke-linecap="butt"/>
<line x1="1273.20" y1="253.70" x2="1264.70" y2="253.70" stroke="#000" stroke-width="2.7" stroke-linecap="butt"/>
<line x1="754.10" y1="183.25" x2="762.60" y2="183.25" stroke="#000" stroke-width="2.7" stroke-linecap="butt"/>
<line x1="1273.20" y1="183.25" x2="1264.70" y2="183.25" stroke="#000" stroke-width="2.7" stroke-linecap="butt"/>
<line x1="754.10" y1="112.80" x2="762.60" y2="112.80" stroke="#000" stroke-width="2.7" stroke-linecap="butt"/>
<line x1="1273.20" y1="112.80" x2="1264.70" y2="112.80" stroke="#000" stroke-width="2.7" stroke-linecap="butt"/>
<line x1="757.60" y1="500.27" x2="762.60" y2="500.27" stroke="#000" stroke-width="2.7" stroke-linecap="butt"/>
<line x1="1273.20" y1="500.27" x2="1268.20" y2="500.27" stroke="#000" stroke-width="2.7" stroke-linecap="butt"/>
<line x1="757.60" y1="429.82" x2="762.60" y2="429.82" stroke="#000" stroke-width="2.7" stroke-linecap="butt"/>
<line x1="1273.20" y1="429.82" x2="1268.20" y2="429.82" stroke="#000" stroke-width="2.7" stroke-linecap="butt"/>
<line x1="757.60" y1="359.38" x2="762.60" y2="359.38" stroke="#000" stroke-width="2.7" stroke-linecap="butt"/>
<line x1="1273.20" y1="359.38" x2="1268.20" y2="359.38" stroke="#000" stroke-width="2.7" stroke-linecap="butt"/>
<line x1="757.60" y1="288.93" x2="762.60" y2="288.93" stroke="#000" stroke-width="2.7" stroke-linecap="butt"/>
<line x1="1273.20" y1="288.93" x2="1268.20" y2="288.93" stroke="#000" stroke-width="2.7" stroke-linecap="butt"/>
<line x1="757.60" y1="218.48" x2="762.60" y2="218.48" stroke="#000" stroke-width="2.7" stroke-linecap="butt"/>
<line x1="1273.20" y1="218.48" x2="1268.20" y2="218.48" stroke="#000" stroke-width="2.7" stroke-linecap="butt"/>
<line x1="757.60" y1="148.02" x2="762.60" y2="148.02" stroke="#000" stroke-width="2.7" stroke-linecap="butt"/>
<line x1="1273.20" y1="148.02" x2="1268.20" y2="148.02" stroke="#000" stroke-width="2.7" stroke-linecap="butt"/>
<line x1="757.60" y1="77.57" x2="762.60" y2="77.57" stroke="#000" stroke-width="2.7" stroke-linecap="butt"/>
<line x1="1273.20" y1="77.57" x2="1268.20" y2="77.57" stroke="#000" stroke-width="2.7" stroke-linecap="butt"/>
<line x1="799.00" y1="535.50" x2="799.00" y2="544.00" stroke="#000" stroke-width="2.7" stroke-linecap="butt"/>
<line x1="799.00" y1="70.60" x2="799.00" y2="79.10" stroke="#000" stroke-width="2.7" stroke-linecap="butt"/>
<line x1="871.90" y1="535.50" x2="871.90" y2="544.00" stroke="#000" stroke-width="2.7" stroke-linecap="butt"/>
<line x1="871.90" y1="70.60" x2="871.90" y2="79.10" stroke="#000" stroke-width="2.7" stroke-linecap="butt"/>
<line x1="944.80" y1="535.50" x2="944.80" y2="544.00" stroke="#000" stroke-width="2.7" stroke-linecap="butt"/>
<line x1="944.80" y1="70.60" x2="944.80" y2="79.10" stroke="#000" stroke-width="2.7" stroke-linecap="butt"/>
<line x1="1017.70" y1="535.50" x2="1017.70" y2="544.00" stroke="#000" stroke-width="2.7" stroke-linecap="butt"/>
<line x1="1017.70" y1="70.60" x2="1017.70" y2="79.10" stroke="#000" stroke-width="2.7" stroke-linecap="butt"/>
<line x1="1090.60" y1="535.50" x2="1090.60" y2="544.00" stroke="#000" stroke-width="2.7" stroke-linecap="butt"/>
<line x1="1090.60" y1="70.60" x2="1090.60" y2="79.10" stroke="#000" stroke-width="2.7" stroke-linecap="butt"/>
<line x1="1163.50" y1="535.50" x2="1163.50" y2="544.00" stroke="#000" stroke-width="2.7" stroke-linecap="butt"/>
<line x1="1163.50" y1="70.60" x2="1163.50" y2="79.10" stroke="#000" stroke-width="2.7" stroke-linecap="butt"/>
<line x1="1236.40" y1="535.50" x2="1236.40" y2="544.00" stroke="#000" stroke-width="2.7" stroke-linecap="butt"/>
<line x1="1236.40" y1="70.60" x2="1236.40" y2="79.10" stroke="#000" stroke-width="2.7" stroke-linecap="butt"/>
<line x1="762.55" y1="535.50" x2="762.55" y2="540.50" stroke="#000" stroke-width="2.7" stroke-linecap="butt"/>
<line x1="762.55" y1="70.60" x2="762.55" y2="75.60" stroke="#000" stroke-width="2.7" stroke-linecap="butt"/>
<line x1="835.45" y1="535.50" x2="835.45" y2="540.50" stroke="#000" stroke-width="2.7" stroke-linecap="butt"/>
<line x1="835.45" y1="70.60" x2="835.45" y2="75.60" stroke="#000" stroke-width="2.7" stroke-linecap="butt"/>
<line x1="908.35" y1="535.50" x2="908.35" y2="540.50" stroke="#000" stroke-width="2.7" stroke-linecap="butt"/>
<line x1="908.35" y1="70.60" x2="908.35" y2="75.60" stroke="#000" stroke-width="2.7" stroke-linecap="butt"/>
<line x1="981.25" y1="535.50" x2="981.25" y2="540.50" stroke="#000" stroke-width="2.7" stroke-linecap="butt"/>
<line x1="981.25" y1="70.60" x2="981.25" y2="75.60" stroke="#000" stroke-width="2.7" stroke-linecap="butt"/>
<line x1="1054.15" y1="535.50" x2="1054.15" y2="540.50" stroke="#000" stroke-width="2.7" stroke-linecap="butt"/>
<line x1="1054.15" y1="70.60" x2="1054.15" y2="75.60" stroke="#000" stroke-width="2.7" stroke-linecap="butt"/>
<line x1="1127.05" y1="535.50" x2="1127.05" y2="540.50" stroke="#000" stroke-width="2.7" stroke-linecap="butt"/>
<line x1="1127.05" y1="70.60" x2="1127.05" y2="75.60" stroke="#000" stroke-width="2.7" stroke-linecap="butt"/>
<line x1="1199.95" y1="535.50" x2="1199.95" y2="540.50" stroke="#000" stroke-width="2.7" stroke-linecap="butt"/>
<line x1="1199.95" y1="70.60" x2="1199.95" y2="75.60" stroke="#000" stroke-width="2.7" stroke-linecap="butt"/>
<line x1="1272.85" y1="535.50" x2="1272.85" y2="540.50" stroke="#000" stroke-width="2.7" stroke-linecap="butt"/>
<line x1="1272.85" y1="70.60" x2="1272.85" y2="75.60" stroke="#000" stroke-width="2.7" stroke-linecap="butt"/>
<text class="e" transform="translate(724.18,544.17) scale(1.0031,1)" font-size="33.33" font-weight="bold" fill="#000" >0</text>
<text class="e" transform="translate(725.04,473.72) scale(0.9271,1)" font-size="33.82" font-weight="bold" fill="#000" >5</text>
<text class="e" transform="translate(715.03,403.27) scale(0.9373,1)" font-size="33.33" font-weight="bold" fill="#000" >10</text>
<text class="e" transform="translate(715.06,332.82) scale(0.9118,1)" font-size="33.82" font-weight="bold" fill="#000" >15</text>
<text class="e" transform="translate(714.90,262.37) scale(0.9551,1)" font-size="33.33" font-weight="bold" fill="#000" >20</text>
<text class="e" transform="translate(714.89,191.92) scale(0.9574,1)" font-size="33.33" font-weight="bold" fill="#000" >25</text>
<text class="e" transform="translate(714.75,121.43) scale(0.9808,1)" font-size="33.26" font-weight="bold" fill="#000" >30</text>
<text class="e" transform="translate(787.46,577.68) scale(1.0243,1)" font-size="33.05" font-weight="bold" fill="#000" >0</text>
<text class="e" transform="translate(855.25,577.68) scale(1.0041,1)" font-size="33.05" font-weight="bold" fill="#000" >20</text>
<text class="e" transform="translate(928.41,577.68) scale(0.9855,1)" font-size="33.05" font-weight="bold" fill="#000" >40</text>
<text class="e" transform="translate(1000.14,577.68) scale(1.0440,1)" font-size="33.05" font-weight="bold" fill="#000" >60</text>
<text class="e" transform="translate(1072.81,577.68) scale(1.0391,1)" font-size="33.05" font-weight="bold" fill="#000" >80</text>
<text class="e" transform="translate(1141.09,577.68) scale(1.0115,1)" font-size="33.05" font-weight="bold" fill="#000" >100</text>
<text class="e" transform="translate(1214.11,577.68) scale(1.0018,1)" font-size="33.05" font-weight="bold" fill="#000" >120</text>
<line x1="1041.40" y1="394.10" x2="1059.70" y2="394.10" stroke="#118080" stroke-width="3.6" stroke-linecap="butt"/>
<line x1="1082.70" y1="394.10" x2="1100.00" y2="394.10" stroke="#118080" stroke-width="3.6" stroke-linecap="butt"/>
<circle cx="1071.20" cy="394.10" r="9.2" fill="#118080"/>
<text class="e" transform="translate(1110.28,403.20) scale(0.9970,1)" font-size="33.8" font-weight="bold" fill="#000" >19-db/db</text>
<line x1="1041.40" y1="431.90" x2="1059.70" y2="431.90" stroke="#c81e1e" stroke-width="3.6" stroke-linecap="butt"/>
<line x1="1082.70" y1="431.90" x2="1100.00" y2="431.90" stroke="#c81e1e" stroke-width="3.6" stroke-linecap="butt"/>
<circle cx="1071.20" cy="431.90" r="9.2" fill="#ff0000"/>
<text class="e" transform="translate(1110.28,441.60) scale(0.9970,1)" font-size="33.8" font-weight="bold" fill="#000" >16-db/db</text>
<line x1="1041.40" y1="469.50" x2="1059.70" y2="469.50" stroke="#0000ff" stroke-width="3.6" stroke-linecap="butt"/>
<line x1="1082.70" y1="469.50" x2="1100.00" y2="469.50" stroke="#0000ff" stroke-width="3.6" stroke-linecap="butt"/>
<circle cx="1071.20" cy="469.50" r="9.2" fill="#0000ff"/>
<text class="e" transform="translate(1110.28,479.70) scale(0.9970,1)" font-size="33.8" font-weight="bold" fill="#000" >12-db/db</text>
<line x1="1041.40" y1="509.50" x2="1059.70" y2="509.50" stroke="#262626" stroke-width="3.6" stroke-linecap="butt"/>
<line x1="1082.70" y1="509.50" x2="1100.00" y2="509.50" stroke="#262626" stroke-width="3.6" stroke-linecap="butt"/>
<circle cx="1071.20" cy="509.50" r="9.2" fill="#2a2a2a"/>
<text class="e" transform="translate(1110.89,519.00) scale(0.9926,1)" font-size="33.8" font-weight="bold" fill="#000" >11-db/db</text>
<text class="e" transform="translate(699.90,541.53) rotate(-90) scale(1.0411,1)" font-size="35.88" font-weight="bold" fill="#000">glucose in plasma [mM/L]</text>
<text class="e" transform="translate(925.95,621.25) scale(1.0503,1)" font-size="35.4" font-weight="bold" fill="#000" >time [min]</text>
<rect x="1455.95" y="426.25" width="25.90" height="107.75" fill="#fff" stroke="#000" stroke-width="5.5"/>
<rect x="1572.35" y="483.15" width="25.50" height="50.85" fill="#fff" stroke="#000" stroke-width="5.5"/>
<rect x="1688.65" y="438.15" width="24.20" height="95.85" fill="#fff" stroke="#000" stroke-width="5.5"/>
<rect x="1804.25" y="455.95" width="27.30" height="78.05" fill="#fff" stroke="#000" stroke-width="5.5"/>
<rect x="1484.20" y="268.50" width="31.20" height="265.50" fill="#000"/>
<rect x="1600.40" y="269.60" width="31.60" height="264.40" fill="#000"/>
<rect x="1715.40" y="236.50" width="32.00" height="297.50" fill="#000"/>
<rect x="1834.10" y="244.30" width="32.20" height="289.70" fill="#000"/>
<line x1="1470.70" y1="377.70" x2="1470.70" y2="474.20" stroke="#000" stroke-width="5.2" stroke-linecap="butt"/>
<line x1="1465.70" y1="377.70" x2="1475.70" y2="377.70" stroke="#000" stroke-width="5.5" stroke-linecap="butt"/>
<line x1="1465.70" y1="474.20" x2="1475.70" y2="474.20" stroke="#000" stroke-width="5.5" stroke-linecap="butt"/>
<line x1="1586.20" y1="471.70" x2="1586.20" y2="492.00" stroke="#000" stroke-width="5.2" stroke-linecap="butt"/>
<line x1="1581.20" y1="471.70" x2="1591.20" y2="471.70" stroke="#000" stroke-width="5.5" stroke-linecap="butt"/>
<line x1="1581.20" y1="492.00" x2="1591.20" y2="492.00" stroke="#000" stroke-width="5.5" stroke-linecap="butt"/>
<line x1="1702.00" y1="418.50" x2="1702.00" y2="456.90" stroke="#000" stroke-width="5.2" stroke-linecap="butt"/>
<line x1="1697.00" y1="418.50" x2="1707.00" y2="418.50" stroke="#000" stroke-width="5.5" stroke-linecap="butt"/>
<line x1="1697.00" y1="456.90" x2="1707.00" y2="456.90" stroke="#000" stroke-width="5.5" stroke-linecap="butt"/>
<line x1="1817.50" y1="445.80" x2="1817.50" y2="465.50" stroke="#000" stroke-width="5.2" stroke-linecap="butt"/>
<line x1="1812.50" y1="445.80" x2="1822.50" y2="445.80" stroke="#000" stroke-width="5.5" stroke-linecap="butt"/>
<line x1="1812.50" y1="465.50" x2="1822.50" y2="465.50" stroke="#000" stroke-width="5.5" stroke-linecap="butt"/>
<line x1="1499.80" y1="251.20" x2="1499.80" y2="300.00" stroke="#000" stroke-width="5.8" stroke-linecap="butt"/>
<line x1="1494.80" y1="251.20" x2="1504.80" y2="251.20" stroke="#000" stroke-width="5.9" stroke-linecap="butt"/>
<line x1="1616.60" y1="219.20" x2="1616.60" y2="300.00" stroke="#000" stroke-width="5.8" stroke-linecap="butt"/>
<line x1="1611.60" y1="219.20" x2="1621.60" y2="219.20" stroke="#000" stroke-width="5.9" stroke-linecap="butt"/>
<line x1="1731.00" y1="220.50" x2="1731.00" y2="300.00" stroke="#000" stroke-width="5.8" stroke-linecap="butt"/>
<line x1="1726.00" y1="220.50" x2="1736.00" y2="220.50" stroke="#000" stroke-width="5.9" stroke-linecap="butt"/>
<line x1="1849.80" y1="221.70" x2="1849.80" y2="300.00" stroke="#000" stroke-width="5.8" stroke-linecap="butt"/>
<line x1="1844.80" y1="221.70" x2="1854.80" y2="221.70" stroke="#000" stroke-width="5.9" stroke-linecap="butt"/>
<rect x="1427.80" y="71.00" width="462.60" height="463.00" fill="none" stroke="#000" stroke-width="4.6"/>
<line x1="1418.30" y1="534.00" x2="1427.80" y2="534.00" stroke="#000" stroke-width="2.8" stroke-linecap="butt"/>
<line x1="1890.40" y1="534.00" x2="1880.90" y2="534.00" stroke="#000" stroke-width="2.8" stroke-linecap="butt"/>
<line x1="1418.30" y1="431.03" x2="1427.80" y2="431.03" stroke="#000" stroke-width="2.8" stroke-linecap="butt"/>
<line x1="1890.40" y1="431.03" x2="1880.90" y2="431.03" stroke="#000" stroke-width="2.8" stroke-linecap="butt"/>
<line x1="1418.30" y1="328.06" x2="1427.80" y2="328.06" stroke="#000" stroke-width="2.8" stroke-linecap="butt"/>
<line x1="1890.40" y1="328.06" x2="1880.90" y2="328.06" stroke="#000" stroke-width="2.8" stroke-linecap="butt"/>
<line x1="1418.30" y1="225.09" x2="1427.80" y2="225.09" stroke="#000" stroke-width="2.8" stroke-linecap="butt"/>
<line x1="1890.40" y1="225.09" x2="1880.90" y2="225.09" stroke="#000" stroke-width="2.8" stroke-linecap="butt"/>
<line x1="1418.30" y1="122.12" x2="1427.80" y2="122.12" stroke="#000" stroke-width="2.8" stroke-linecap="butt"/>
<line x1="1890.40" y1="122.12" x2="1880.90" y2="122.12" stroke="#000" stroke-width="2.8" stroke-linecap="butt"/>
<line x1="1421.80" y1="482.51" x2="1427.80" y2="482.51" stroke="#000" stroke-width="2.8" stroke-linecap="butt"/>
<line x1="1890.40" y1="482.51" x2="1884.40" y2="482.51" stroke="#000" stroke-width="2.8" stroke-linecap="butt"/>
<line x1="1421.80" y1="379.54" x2="1427.80" y2="379.54" stroke="#000" stroke-width="2.8" stroke-linecap="butt"/>
<line x1="1890.40" y1="379.54" x2="1884.40" y2="379.54" stroke="#000" stroke-width="2.8" stroke-linecap="butt"/>
<line x1="1421.80" y1="276.57" x2="1427.80" y2="276.57" stroke="#000" stroke-width="2.8" stroke-linecap="butt"/>
<line x1="1890.40" y1="276.57" x2="1884.40" y2="276.57" stroke="#000" stroke-width="2.8" stroke-linecap="butt"/>
<line x1="1421.80" y1="173.60" x2="1427.80" y2="173.60" stroke="#000" stroke-width="2.8" stroke-linecap="butt"/>
<line x1="1890.40" y1="173.60" x2="1884.40" y2="173.60" stroke="#000" stroke-width="2.8" stroke-linecap="butt"/>
<line x1="1421.80" y1="70.63" x2="1427.80" y2="70.63" stroke="#000" stroke-width="2.8" stroke-linecap="butt"/>
<line x1="1890.40" y1="70.63" x2="1884.40" y2="70.63" stroke="#000" stroke-width="2.8" stroke-linecap="butt"/>
<line x1="1485.50" y1="534.00" x2="1485.50" y2="542.50" stroke="#000" stroke-width="2.8" stroke-linecap="butt"/>
<line x1="1485.50" y1="71.00" x2="1485.50" y2="79.50" stroke="#000" stroke-width="2.8" stroke-linecap="butt"/>
<line x1="1601.30" y1="534.00" x2="1601.30" y2="542.50" stroke="#000" stroke-width="2.8" stroke-linecap="butt"/>
<line x1="1601.30" y1="71.00" x2="1601.30" y2="79.50" stroke="#000" stroke-width="2.8" stroke-linecap="butt"/>
<line x1="1716.10" y1="534.00" x2="1716.10" y2="542.50" stroke="#000" stroke-width="2.8" stroke-linecap="butt"/>
<line x1="1716.10" y1="71.00" x2="1716.10" y2="79.50" stroke="#000" stroke-width="2.8" stroke-linecap="butt"/>
<line x1="1831.80" y1="534.00" x2="1831.80" y2="542.50" stroke="#000" stroke-width="2.8" stroke-linecap="butt"/>
<line x1="1831.80" y1="71.00" x2="1831.80" y2="79.50" stroke="#000" stroke-width="2.8" stroke-linecap="butt"/>
<line x1="1427.80" y1="534.00" x2="1427.80" y2="539.00" stroke="#000" stroke-width="2.8" stroke-linecap="butt"/>
<line x1="1427.80" y1="71.00" x2="1427.80" y2="76.00" stroke="#000" stroke-width="2.8" stroke-linecap="butt"/>
<line x1="1543.40" y1="534.00" x2="1543.40" y2="539.00" stroke="#000" stroke-width="2.8" stroke-linecap="butt"/>
<line x1="1543.40" y1="71.00" x2="1543.40" y2="76.00" stroke="#000" stroke-width="2.8" stroke-linecap="butt"/>
<line x1="1658.70" y1="534.00" x2="1658.70" y2="539.00" stroke="#000" stroke-width="2.8" stroke-linecap="butt"/>
<line x1="1658.70" y1="71.00" x2="1658.70" y2="76.00" stroke="#000" stroke-width="2.8" stroke-linecap="butt"/>
<line x1="1773.90" y1="534.00" x2="1773.90" y2="539.00" stroke="#000" stroke-width="2.8" stroke-linecap="butt"/>
<line x1="1773.90" y1="71.00" x2="1773.90" y2="76.00" stroke="#000" stroke-width="2.8" stroke-linecap="butt"/>
<line x1="1889.50" y1="534.00" x2="1889.50" y2="539.00" stroke="#000" stroke-width="2.8" stroke-linecap="butt"/>
<line x1="1889.50" y1="71.00" x2="1889.50" y2="76.00" stroke="#000" stroke-width="2.8" stroke-linecap="butt"/>
<text class="e" transform="translate(1384.67,542.78) scale(1.0179,1)" font-size="33.05" font-weight="bold" fill="#000" >0</text>
<text class="e" transform="translate(1343.92,439.91) scale(0.9988,1)" font-size="33.05" font-weight="bold" fill="#000" >1000</text>
<text class="e" transform="translate(1344.87,336.94) scale(0.9856,1)" font-size="33.05" font-weight="bold" fill="#000" >2000</text>
<text class="e" transform="translate(1345.26,233.92) scale(0.9823,1)" font-size="32.98" font-weight="bold" fill="#000" >3000</text>
<text class="e" transform="translate(1345.51,131.00) scale(0.9767,1)" font-size="33.05" font-weight="bold" fill="#000" >4000</text>
<text class="e" transform="translate(1467.64,577.00) scale(0.8664,1)" font-size="34.01" font-weight="bold" fill="#000" >11</text>
<text class="e" transform="translate(1582.42,577.00) scale(0.9876,1)" font-size="33.51" font-weight="bold" fill="#000" >12</text>
<text class="e" transform="translate(1698.62,576.68) scale(0.9974,1)" font-size="33.05" font-weight="bold" fill="#000" >16</text>
<text class="e" transform="translate(1816.12,576.68) scale(0.9984,1)" font-size="33.05" font-weight="bold" fill="#000" >19</text>
<text transform="translate(1490.27,243.71) scale(1.0612,1)" font-size="40.85" font-weight="bold" fill="#000" stroke="#000" stroke-width="0.6">*</text>
<text transform="translate(1606.47,215.21) scale(1.0612,1)" font-size="40.85" font-weight="bold" fill="#000" stroke="#000" stroke-width="0.6">*</text>
<text transform="translate(1721.68,211.41) scale(1.0421,1)" font-size="40.85" font-weight="bold" fill="#000" stroke="#000" stroke-width="0.6">*</text>
<text transform="translate(1837.68,215.21) scale(1.0294,1)" font-size="40.85" font-weight="bold" fill="#000" stroke="#000" stroke-width="0.6">*</text>
<rect x="1721.50" y="84.60" width="52.10" height="24.90" fill="#fff" stroke="#000" stroke-width="4.8"/>
<rect x="1719.10" y="119.90" width="56.90" height="30.80" fill="#000"/>
<text class="e" transform="translate(1779.64,111.60) scale(1.0127,1)" font-size="32.8" font-weight="bold" fill="#000" >db/+</text>
<text class="e" transform="translate(1779.61,144.30) scale(1.0316,1)" font-size="32.8" font-weight="bold" fill="#000" >db/db</text>
<text class="e" transform="translate(1335.01,405.97) rotate(-90) scale(1.0139,1)" font-size="38.5" font-weight="bold" fill="#000">AUC [a.u.]</text>
<text class="e" transform="translate(1487.42,616.31) scale(1.0708,1)" font-size="34.38" font-weight="bold" fill="#000" >age of mice [week]</text>
<rect x="133.45" y="1097.65" width="32.20" height="73.35" fill="#fff" stroke="#000" stroke-width="5.5"/>
<rect x="260.95" y="1109.95" width="32.00" height="61.05" fill="#fff" stroke="#000" stroke-width="5.5"/>
<rect x="389.55" y="1114.25" width="30.60" height="56.75" fill="#fff" stroke="#000" stroke-width="5.5"/>
<rect x="517.35" y="1104.75" width="31.50" height="66.25" fill="#fff" stroke="#000" stroke-width="5.5"/>
<rect x="173.65" y="955.45" width="32.00" height="215.55" fill="#b2b2b2" stroke="#000" stroke-width="5.5"/>
<rect x="301.25" y="916.75" width="32.30" height="254.25" fill="#b2b2b2" stroke="#000" stroke-width="5.5"/>
<rect x="429.05" y="843.35" width="32.80" height="327.65" fill="#b2b2b2" stroke="#000" stroke-width="5.5"/>
<rect x="557.95" y="766.55" width="32.70" height="404.45" fill="#b2b2b2" stroke="#000" stroke-width="5.5"/>
<line x1="149.30" y1="1090.00" x2="149.30" y2="1105.00" stroke="#000" stroke-width="4.6" stroke-linecap="butt"/>
<line x1="144.30" y1="1090.00" x2="154.30" y2="1090.00" stroke="#000" stroke-width="4.6" stroke-linecap="butt"/>
<line x1="144.30" y1="1105.00" x2="154.30" y2="1105.00" stroke="#000" stroke-width="4.6" stroke-linecap="butt"/>
<line x1="276.50" y1="1079.30" x2="276.50" y2="1140.50" stroke="#000" stroke-width="4.6" stroke-linecap="butt"/>
<line x1="271.50" y1="1079.30" x2="281.50" y2="1079.30" stroke="#000" stroke-width="4.6" stroke-linecap="butt"/>
<line x1="271.50" y1="1140.50" x2="281.50" y2="1140.50" stroke="#000" stroke-width="4.6" stroke-linecap="butt"/>
<line x1="404.60" y1="1085.60" x2="404.60" y2="1139.70" stroke="#000" stroke-width="4.6" stroke-linecap="butt"/>
<line x1="399.60" y1="1085.60" x2="409.60" y2="1085.60" stroke="#000" stroke-width="4.6" stroke-linecap="butt"/>
<line x1="399.60" y1="1139.70" x2="409.60" y2="1139.70" stroke="#000" stroke-width="4.6" stroke-linecap="butt"/>
<line x1="532.40" y1="1072.20" x2="532.40" y2="1133.00" stroke="#000" stroke-width="4.6" stroke-linecap="butt"/>
<line x1="527.40" y1="1072.20" x2="537.40" y2="1072.20" stroke="#000" stroke-width="4.6" stroke-linecap="butt"/>
<line x1="527.40" y1="1133.00" x2="537.40" y2="1133.00" stroke="#000" stroke-width="4.6" stroke-linecap="butt"/>
<line x1="188.90" y1="921.30" x2="188.90" y2="988.80" stroke="#000" stroke-width="4.6" stroke-linecap="butt"/>
<line x1="183.90" y1="921.30" x2="193.90" y2="921.30" stroke="#000" stroke-width="4.6" stroke-linecap="butt"/>
<line x1="183.90" y1="988.80" x2="193.90" y2="988.80" stroke="#000" stroke-width="4.6" stroke-linecap="butt"/>
<line x1="317.40" y1="882.50" x2="317.40" y2="950.80" stroke="#000" stroke-width="4.6" stroke-linecap="butt"/>
<line x1="312.40" y1="882.50" x2="322.40" y2="882.50" stroke="#000" stroke-width="4.6" stroke-linecap="butt"/>
<line x1="312.40" y1="950.80" x2="322.40" y2="950.80" stroke="#000" stroke-width="4.6" stroke-linecap="butt"/>
<line x1="445.70" y1="809.80" x2="445.70" y2="878.60" stroke="#000" stroke-width="4.6" stroke-linecap="butt"/>
<line x1="440.70" y1="809.80" x2="450.70" y2="809.80" stroke="#000" stroke-width="4.6" stroke-linecap="butt"/>
<line x1="440.70" y1="878.60" x2="450.70" y2="878.60" stroke="#000" stroke-width="4.6" stroke-linecap="butt"/>
<line x1="574.50" y1="723.40" x2="574.50" y2="811.80" stroke="#000" stroke-width="4.6" stroke-linecap="butt"/>
<line x1="569.50" y1="723.40" x2="579.50" y2="723.40" stroke="#000" stroke-width="4.6" stroke-linecap="butt"/>
<line x1="569.50" y1="811.80" x2="579.50" y2="811.80" stroke="#000" stroke-width="4.6" stroke-linecap="butt"/>
<rect x="104.80" y="699.70" width="512.20" height="471.30" fill="none" stroke="#000" stroke-width="5.2"/>
<line x1="95.80" y1="1137.16" x2="104.80" y2="1137.16" stroke="#000" stroke-width="3.9" stroke-linecap="butt"/>
<line x1="617.00" y1="1137.16" x2="608.00" y2="1137.16" stroke="#000" stroke-width="3.9" stroke-linecap="butt"/>
<line x1="95.80" y1="1069.80" x2="104.80" y2="1069.80" stroke="#000" stroke-width="3.9" stroke-linecap="butt"/>
<line x1="617.00" y1="1069.80" x2="608.00" y2="1069.80" stroke="#000" stroke-width="3.9" stroke-linecap="butt"/>
<line x1="95.80" y1="1002.44" x2="104.80" y2="1002.44" stroke="#000" stroke-width="3.9" stroke-linecap="butt"/>
<line x1="617.00" y1="1002.44" x2="608.00" y2="1002.44" stroke="#000" stroke-width="3.9" stroke-linecap="butt"/>
<line x1="95.80" y1="935.08" x2="104.80" y2="935.08" stroke="#000" stroke-width="3.9" stroke-linecap="butt"/>
<line x1="617.00" y1="935.08" x2="608.00" y2="935.08" stroke="#000" stroke-width="3.9" stroke-linecap="butt"/>
<line x1="95.80" y1="867.72" x2="104.80" y2="867.72" stroke="#000" stroke-width="3.9" stroke-linecap="butt"/>
<line x1="617.00" y1="867.72" x2="608.00" y2="867.72" stroke="#000" stroke-width="3.9" stroke-linecap="butt"/>
<line x1="95.80" y1="800.36" x2="104.80" y2="800.36" stroke="#000" stroke-width="3.9" stroke-linecap="butt"/>
<line x1="617.00" y1="800.36" x2="608.00" y2="800.36" stroke="#000" stroke-width="3.9" stroke-linecap="butt"/>
<line x1="95.80" y1="733.00" x2="104.80" y2="733.00" stroke="#000" stroke-width="3.9" stroke-linecap="butt"/>
<line x1="617.00" y1="733.00" x2="608.00" y2="733.00" stroke="#000" stroke-width="3.9" stroke-linecap="butt"/>
<line x1="99.30" y1="1170.84" x2="104.80" y2="1170.84" stroke="#000" stroke-width="3.9" stroke-linecap="butt"/>
<line x1="617.00" y1="1170.84" x2="611.50" y2="1170.84" stroke="#000" stroke-width="3.9" stroke-linecap="butt"/>
<line x1="99.30" y1="1103.48" x2="104.80" y2="1103.48" stroke="#000" stroke-width="3.9" stroke-linecap="butt"/>
<line x1="617.00" y1="1103.48" x2="611.50" y2="1103.48" stroke="#000" stroke-width="3.9" stroke-linecap="butt"/>
<line x1="99.30" y1="1036.12" x2="104.80" y2="1036.12" stroke="#000" stroke-width="3.9" stroke-linecap="butt"/>
<line x1="617.00" y1="1036.12" x2="611.50" y2="1036.12" stroke="#000" stroke-width="3.9" stroke-linecap="butt"/>
<line x1="99.30" y1="968.76" x2="104.80" y2="968.76" stroke="#000" stroke-width="3.9" stroke-linecap="butt"/>
<line x1="617.00" y1="968.76" x2="611.50" y2="968.76" stroke="#000" stroke-width="3.9" stroke-linecap="butt"/>
<line x1="99.30" y1="901.40" x2="104.80" y2="901.40" stroke="#000" stroke-width="3.9" stroke-linecap="butt"/>
<line x1="617.00" y1="901.40" x2="611.50" y2="901.40" stroke="#000" stroke-width="3.9" stroke-linecap="butt"/>
<line x1="99.30" y1="834.04" x2="104.80" y2="834.04" stroke="#000" stroke-width="3.9" stroke-linecap="butt"/>
<line x1="617.00" y1="834.04" x2="611.50" y2="834.04" stroke="#000" stroke-width="3.9" stroke-linecap="butt"/>
<line x1="99.30" y1="766.68" x2="104.80" y2="766.68" stroke="#000" stroke-width="3.9" stroke-linecap="butt"/>
<line x1="617.00" y1="766.68" x2="611.50" y2="766.68" stroke="#000" stroke-width="3.9" stroke-linecap="butt"/>
<line x1="99.30" y1="699.32" x2="104.80" y2="699.32" stroke="#000" stroke-width="3.9" stroke-linecap="butt"/>
<line x1="617.00" y1="699.32" x2="611.50" y2="699.32" stroke="#000" stroke-width="3.9" stroke-linecap="butt"/>
<line x1="168.50" y1="1171.00" x2="168.50" y2="1180.00" stroke="#000" stroke-width="3.9" stroke-linecap="butt"/>
<line x1="168.50" y1="699.70" x2="168.50" y2="708.70" stroke="#000" stroke-width="3.9" stroke-linecap="butt"/>
<line x1="296.80" y1="1171.00" x2="296.80" y2="1180.00" stroke="#000" stroke-width="3.9" stroke-linecap="butt"/>
<line x1="296.80" y1="699.70" x2="296.80" y2="708.70" stroke="#000" stroke-width="3.9" stroke-linecap="butt"/>
<line x1="425.10" y1="1171.00" x2="425.10" y2="1180.00" stroke="#000" stroke-width="3.9" stroke-linecap="butt"/>
<line x1="425.10" y1="699.70" x2="425.10" y2="708.70" stroke="#000" stroke-width="3.9" stroke-linecap="butt"/>
<line x1="553.40" y1="1171.00" x2="553.40" y2="1180.00" stroke="#000" stroke-width="3.9" stroke-linecap="butt"/>
<line x1="553.40" y1="699.70" x2="553.40" y2="708.70" stroke="#000" stroke-width="3.9" stroke-linecap="butt"/>
<line x1="104.80" y1="1171.00" x2="104.80" y2="1176.50" stroke="#000" stroke-width="3.9" stroke-linecap="butt"/>
<line x1="104.80" y1="699.70" x2="104.80" y2="705.20" stroke="#000" stroke-width="3.9" stroke-linecap="butt"/>
<line x1="232.60" y1="1171.00" x2="232.60" y2="1176.50" stroke="#000" stroke-width="3.9" stroke-linecap="butt"/>
<line x1="232.60" y1="699.70" x2="232.60" y2="705.20" stroke="#000" stroke-width="3.9" stroke-linecap="butt"/>
<line x1="361.00" y1="1171.00" x2="361.00" y2="1176.50" stroke="#000" stroke-width="3.9" stroke-linecap="butt"/>
<line x1="361.00" y1="699.70" x2="361.00" y2="705.20" stroke="#000" stroke-width="3.9" stroke-linecap="butt"/>
<line x1="489.30" y1="1171.00" x2="489.30" y2="1176.50" stroke="#000" stroke-width="3.9" stroke-linecap="butt"/>
<line x1="489.30" y1="699.70" x2="489.30" y2="705.20" stroke="#000" stroke-width="3.9" stroke-linecap="butt"/>
<line x1="617.00" y1="1171.00" x2="617.00" y2="1176.50" stroke="#000" stroke-width="3.9" stroke-linecap="butt"/>
<line x1="617.00" y1="699.70" x2="617.00" y2="705.20" stroke="#000" stroke-width="3.9" stroke-linecap="butt"/>
<text class="e" transform="translate(72.62,1147.66) scale(0.9121,1)" font-size="34.59" font-weight="bold" fill="#000" >4</text>
<text class="e" transform="translate(71.82,1079.97) scale(1.0399,1)" font-size="33.62" font-weight="bold" fill="#000" >6</text>
<text class="e" transform="translate(72.01,1012.61) scale(1.0183,1)" font-size="33.62" font-weight="bold" fill="#000" >8</text>
<text class="e" transform="translate(59.55,945.85) scale(0.9760,1)" font-size="33.33" font-weight="bold" fill="#000" >10</text>
<text class="e" transform="translate(59.55,878.82) scale(0.9615,1)" font-size="33.8" font-weight="bold" fill="#000" >12</text>
<text class="e" transform="translate(59.62,811.46) scale(0.9160,1)" font-size="34.3" font-weight="bold" fill="#000" >14</text>
<text class="e" transform="translate(59.56,743.77) scale(0.9713,1)" font-size="33.33" font-weight="bold" fill="#000" >16</text>
<text class="e" transform="translate(153.16,1206.50) scale(0.8258,1)" font-size="33.43" font-weight="bold" fill="#000" >11</text>
<text class="e" transform="translate(282.00,1206.50) scale(0.9625,1)" font-size="32.94" font-weight="bold" fill="#000" >12</text>
<text class="e" transform="translate(412.07,1206.18) scale(0.9417,1)" font-size="32.49" font-weight="bold" fill="#000" >16</text>
<text class="e" transform="translate(537.01,1206.18) scale(0.9730,1)" font-size="32.49" font-weight="bold" fill="#000" >19</text>
<line x1="183.00" y1="832.40" x2="304.80" y2="832.40" stroke="#000" stroke-width="3" stroke-linecap="butt"/>
<line x1="308.90" y1="754.90" x2="431.70" y2="754.90" stroke="#000" stroke-width="3" stroke-linecap="butt"/>
<line x1="442.10" y1="733.10" x2="563.90" y2="733.10" stroke="#000" stroke-width="3" stroke-linecap="butt"/>
<text transform="translate(227.45,864.16) scale(0.8957,1)" font-size="34.65" font-weight="bold" fill="#000" stroke="#000" stroke-width="1.0">ns</text>
<text transform="translate(362.15,791.70) scale(0.8988,1)" font-size="35.53" font-weight="bold" fill="#000" stroke="#000" stroke-width="1.3">#</text>
<text transform="translate(494.06,769.40) scale(0.8808,1)" font-size="35.82" font-weight="bold" fill="#000" stroke="#000" stroke-width="1.3">#</text>
<text transform="translate(181.48,925.04) scale(0.9243,1)" font-size="43.81" font-weight="bold" fill="#000" stroke="#000" stroke-width="0.6">*</text>
<text transform="translate(309.08,885.22) scale(0.9657,1)" font-size="44.08" font-weight="bold" fill="#000" stroke="#000" stroke-width="0.6">*</text>
<text transform="translate(439.88,814.84) scale(0.8561,1)" font-size="47.3" font-weight="bold" fill="#000" stroke="#000" stroke-width="0.6">*</text>
<text transform="translate(566.49,734.12) scale(0.8774,1)" font-size="44.08" font-weight="bold" fill="#000" stroke="#000" stroke-width="0.6">*</text>
<rect x="114.25" y="715.65" width="45.70" height="25.80" fill="#b2b2b2" stroke="#000" stroke-width="4.7"/>
<rect x="114.25" y="755.05" width="45.70" height="24.60" fill="#fff" stroke="#000" stroke-width="4.7"/>
<text class="e" transform="translate(171.32,737.50) scale(1.1087,1)" font-size="32.5" font-weight="bold" fill="#000" >db/db</text>
<text class="e" transform="translate(171.31,779.00) scale(1.1158,1)" font-size="32.5" font-weight="bold" fill="#000" >db/+</text>
<text class="e" transform="translate(44.89,1014.68) rotate(-90) scale(0.9236,1)" font-size="43.4" font-weight="bold" fill="#000">HbA1c [%]</text>
<text class="e" transform="translate(177.31,1242.67) scale(1.0761,1)" font-size="34.6" font-weight="bold" fill="#000" >age of mice [weeks]</text>
<rect x="829.80" y="990.00" width="33.40" height="182.70" fill="#fff" stroke="#000" stroke-width="4.8"/>
<rect x="941.40" y="864.30" width="33.10" height="308.40" fill="#fff" stroke="#000" stroke-width="4.8"/>
<rect x="1052.90" y="880.30" width="33.10" height="292.40" fill="#fff" stroke="#000" stroke-width="4.8"/>
<rect x="1165.10" y="938.70" width="33.20" height="234.00" fill="#fff" stroke="#000" stroke-width="4.8"/>
<rect x="863.20" y="883.50" width="33.30" height="289.20" fill="#808080" stroke="#000" stroke-width="4.8"/>
<rect x="974.50" y="979.20" width="33.40" height="193.50" fill="#808080" stroke="#000" stroke-width="4.8"/>
<rect x="1086.00" y="1077.90" width="33.20" height="94.80" fill="#808080" stroke="#000" stroke-width="4.8"/>
<line x1="846.70" y1="913.50" x2="846.70" y2="1067.00" stroke="#000" stroke-width="4.6" stroke-linecap="butt"/>
<line x1="841.95" y1="913.50" x2="851.45" y2="913.50" stroke="#000" stroke-width="4.6" stroke-linecap="butt"/>
<line x1="841.95" y1="1067.00" x2="851.45" y2="1067.00" stroke="#000" stroke-width="4.6" stroke-linecap="butt"/>
<line x1="958.40" y1="741.80" x2="958.40" y2="987.20" stroke="#000" stroke-width="4.6" stroke-linecap="butt"/>
<line x1="953.65" y1="741.80" x2="963.15" y2="741.80" stroke="#000" stroke-width="4.6" stroke-linecap="butt"/>
<line x1="953.65" y1="987.20" x2="963.15" y2="987.20" stroke="#000" stroke-width="4.6" stroke-linecap="butt"/>
<line x1="1069.40" y1="838.30" x2="1069.40" y2="918.60" stroke="#000" stroke-width="4.6" stroke-linecap="butt"/>
<line x1="1064.65" y1="838.30" x2="1074.15" y2="838.30" stroke="#000" stroke-width="4.6" stroke-linecap="butt"/>
<line x1="1064.65" y1="918.60" x2="1074.15" y2="918.60" stroke="#000" stroke-width="4.6" stroke-linecap="butt"/>
<line x1="1181.10" y1="898.70" x2="1181.10" y2="977.60" stroke="#000" stroke-width="4.6" stroke-linecap="butt"/>
<line x1="1176.35" y1="898.70" x2="1185.85" y2="898.70" stroke="#000" stroke-width="4.6" stroke-linecap="butt"/>
<line x1="1176.35" y1="977.60" x2="1185.85" y2="977.60" stroke="#000" stroke-width="4.6" stroke-linecap="butt"/>
<line x1="879.80" y1="741.80" x2="879.80" y2="1022.00" stroke="#000" stroke-width="4.6" stroke-linecap="butt"/>
<line x1="875.05" y1="741.80" x2="884.55" y2="741.80" stroke="#000" stroke-width="4.6" stroke-linecap="butt"/>
<line x1="875.05" y1="1022.00" x2="884.55" y2="1022.00" stroke="#000" stroke-width="4.6" stroke-linecap="butt"/>
<line x1="991.60" y1="888.80" x2="991.60" y2="1067.90" stroke="#000" stroke-width="4.6" stroke-linecap="butt"/>
<line x1="986.85" y1="888.80" x2="996.35" y2="888.80" stroke="#000" stroke-width="4.6" stroke-linecap="butt"/>
<line x1="986.85" y1="1067.90" x2="996.35" y2="1067.90" stroke="#000" stroke-width="4.6" stroke-linecap="butt"/>
<line x1="1103.20" y1="1013.00" x2="1103.20" y2="1141.00" stroke="#000" stroke-width="4.6" stroke-linecap="butt"/>
<line x1="1098.45" y1="1013.00" x2="1107.95" y2="1013.00" stroke="#000" stroke-width="4.6" stroke-linecap="butt"/>
<line x1="1098.45" y1="1141.00" x2="1107.95" y2="1141.00" stroke="#000" stroke-width="4.6" stroke-linecap="butt"/>
<line x1="1214.50" y1="1133.20" x2="1214.50" y2="1172.70" stroke="#000" stroke-width="4.8" stroke-linecap="butt"/>
<line x1="1209.50" y1="1133.20" x2="1219.00" y2="1133.20" stroke="#000" stroke-width="5" stroke-linecap="butt"/>
<rect x="807.80" y="696.30" width="445.40" height="476.40" fill="none" stroke="#000" stroke-width="5"/>
<line x1="799.05" y1="1172.70" x2="807.80" y2="1172.70" stroke="#000" stroke-width="3.9" stroke-linecap="butt"/>
<line x1="1253.20" y1="1172.70" x2="1244.45" y2="1172.70" stroke="#000" stroke-width="3.9" stroke-linecap="butt"/>
<line x1="799.05" y1="1093.36" x2="807.80" y2="1093.36" stroke="#000" stroke-width="3.9" stroke-linecap="butt"/>
<line x1="1253.20" y1="1093.36" x2="1244.45" y2="1093.36" stroke="#000" stroke-width="3.9" stroke-linecap="butt"/>
<line x1="799.05" y1="1014.02" x2="807.80" y2="1014.02" stroke="#000" stroke-width="3.9" stroke-linecap="butt"/>
<line x1="1253.20" y1="1014.02" x2="1244.45" y2="1014.02" stroke="#000" stroke-width="3.9" stroke-linecap="butt"/>
<line x1="799.05" y1="934.68" x2="807.80" y2="934.68" stroke="#000" stroke-width="3.9" stroke-linecap="butt"/>
<line x1="1253.20" y1="934.68" x2="1244.45" y2="934.68" stroke="#000" stroke-width="3.9" stroke-linecap="butt"/>
<line x1="799.05" y1="855.34" x2="807.80" y2="855.34" stroke="#000" stroke-width="3.9" stroke-linecap="butt"/>
<line x1="1253.20" y1="855.34" x2="1244.45" y2="855.34" stroke="#000" stroke-width="3.9" stroke-linecap="butt"/>
<line x1="799.05" y1="776.00" x2="807.80" y2="776.00" stroke="#000" stroke-width="3.9" stroke-linecap="butt"/>
<line x1="1253.20" y1="776.00" x2="1244.45" y2="776.00" stroke="#000" stroke-width="3.9" stroke-linecap="butt"/>
<line x1="799.05" y1="696.66" x2="807.80" y2="696.66" stroke="#000" stroke-width="3.9" stroke-linecap="butt"/>
<line x1="1253.20" y1="696.66" x2="1244.45" y2="696.66" stroke="#000" stroke-width="3.9" stroke-linecap="butt"/>
<line x1="802.55" y1="1133.03" x2="807.80" y2="1133.03" stroke="#000" stroke-width="3.9" stroke-linecap="butt"/>
<line x1="1253.20" y1="1133.03" x2="1247.95" y2="1133.03" stroke="#000" stroke-width="3.9" stroke-linecap="butt"/>
<line x1="802.55" y1="1053.69" x2="807.80" y2="1053.69" stroke="#000" stroke-width="3.9" stroke-linecap="butt"/>
<line x1="1253.20" y1="1053.69" x2="1247.95" y2="1053.69" stroke="#000" stroke-width="3.9" stroke-linecap="butt"/>
<line x1="802.55" y1="974.35" x2="807.80" y2="974.35" stroke="#000" stroke-width="3.9" stroke-linecap="butt"/>
<line x1="1253.20" y1="974.35" x2="1247.95" y2="974.35" stroke="#000" stroke-width="3.9" stroke-linecap="butt"/>
<line x1="802.55" y1="895.01" x2="807.80" y2="895.01" stroke="#000" stroke-width="3.9" stroke-linecap="butt"/>
<line x1="1253.20" y1="895.01" x2="1247.95" y2="895.01" stroke="#000" stroke-width="3.9" stroke-linecap="butt"/>
<line x1="802.55" y1="815.67" x2="807.80" y2="815.67" stroke="#000" stroke-width="3.9" stroke-linecap="butt"/>
<line x1="1253.20" y1="815.67" x2="1247.95" y2="815.67" stroke="#000" stroke-width="3.9" stroke-linecap="butt"/>
<line x1="802.55" y1="736.33" x2="807.80" y2="736.33" stroke="#000" stroke-width="3.9" stroke-linecap="butt"/>
<line x1="1253.20" y1="736.33" x2="1247.95" y2="736.33" stroke="#000" stroke-width="3.9" stroke-linecap="butt"/>
<line x1="863.20" y1="1172.70" x2="863.20" y2="1181.45" stroke="#000" stroke-width="3.9" stroke-linecap="butt"/>
<line x1="863.20" y1="696.30" x2="863.20" y2="705.05" stroke="#000" stroke-width="3.9" stroke-linecap="butt"/>
<line x1="974.80" y1="1172.70" x2="974.80" y2="1181.45" stroke="#000" stroke-width="3.9" stroke-linecap="butt"/>
<line x1="974.80" y1="696.30" x2="974.80" y2="705.05" stroke="#000" stroke-width="3.9" stroke-linecap="butt"/>
<line x1="1086.40" y1="1172.70" x2="1086.40" y2="1181.45" stroke="#000" stroke-width="3.9" stroke-linecap="butt"/>
<line x1="1086.40" y1="696.30" x2="1086.40" y2="705.05" stroke="#000" stroke-width="3.9" stroke-linecap="butt"/>
<line x1="1198.00" y1="1172.70" x2="1198.00" y2="1181.45" stroke="#000" stroke-width="3.9" stroke-linecap="butt"/>
<line x1="1198.00" y1="696.30" x2="1198.00" y2="705.05" stroke="#000" stroke-width="3.9" stroke-linecap="butt"/>
<line x1="807.80" y1="1172.70" x2="807.80" y2="1177.95" stroke="#000" stroke-width="3.9" stroke-linecap="butt"/>
<line x1="807.80" y1="696.30" x2="807.80" y2="701.55" stroke="#000" stroke-width="3.9" stroke-linecap="butt"/>
<line x1="919.00" y1="1172.70" x2="919.00" y2="1177.95" stroke="#000" stroke-width="3.9" stroke-linecap="butt"/>
<line x1="919.00" y1="696.30" x2="919.00" y2="701.55" stroke="#000" stroke-width="3.9" stroke-linecap="butt"/>
<line x1="1030.60" y1="1172.70" x2="1030.60" y2="1177.95" stroke="#000" stroke-width="3.9" stroke-linecap="butt"/>
<line x1="1030.60" y1="696.30" x2="1030.60" y2="701.55" stroke="#000" stroke-width="3.9" stroke-linecap="butt"/>
<line x1="1142.20" y1="1172.70" x2="1142.20" y2="1177.95" stroke="#000" stroke-width="3.9" stroke-linecap="butt"/>
<line x1="1142.20" y1="696.30" x2="1142.20" y2="701.55" stroke="#000" stroke-width="3.9" stroke-linecap="butt"/>
<line x1="1253.20" y1="1172.70" x2="1253.20" y2="1177.95" stroke="#000" stroke-width="3.9" stroke-linecap="butt"/>
<line x1="1253.20" y1="696.30" x2="1253.20" y2="701.55" stroke="#000" stroke-width="3.9" stroke-linecap="butt"/>
<text class="e" transform="translate(723.04,1179.83) scale(0.9693,1)" font-size="37.99" font-weight="bold" fill="#000" >0.00</text>
<text class="e" transform="translate(723.04,1100.49) scale(0.9688,1)" font-size="37.99" font-weight="bold" fill="#000" >0.02</text>
<text class="e" transform="translate(723.07,1021.15) scale(0.9511,1)" font-size="37.99" font-weight="bold" fill="#000" >0.04</text>
<text class="e" transform="translate(723.05,941.81) scale(0.9667,1)" font-size="37.99" font-weight="bold" fill="#000" >0.06</text>
<text class="e" transform="translate(723.05,862.47) scale(0.9640,1)" font-size="37.99" font-weight="bold" fill="#000" >0.08</text>
<text class="e" transform="translate(723.04,783.13) scale(0.9693,1)" font-size="37.99" font-weight="bold" fill="#000" >0.10</text>
<text class="e" transform="translate(844.48,1205.80) scale(0.8991,1)" font-size="32.12" font-weight="bold" fill="#000" >11</text>
<text class="e" transform="translate(960.07,1205.80) scale(1.0205,1)" font-size="31.65" font-weight="bold" fill="#000" >12</text>
<text class="e" transform="translate(1068.54,1205.50) scale(0.9993,1)" font-size="31.21" font-weight="bold" fill="#000" >16</text>
<text class="e" transform="translate(1178.97,1205.50) scale(1.0351,1)" font-size="31.21" font-weight="bold" fill="#000" >19</text>
<text transform="translate(865.33,733.19) scale(0.9000,1)" font-size="31.55" font-weight="bold" fill="#000" stroke="#000" stroke-width="0.8">ns</text>
<text transform="translate(980.72,879.71) scale(0.9468,1)" font-size="30.09" font-weight="bold" fill="#000" stroke="#000" stroke-width="0.8">ns</text>
<text transform="translate(1097.24,1000.20) scale(0.8965,1)" font-size="36.26" font-weight="bold" fill="#000" stroke="#000" stroke-width="1.3">#</text>
<text transform="translate(1202.12,1108.50) scale(1.0781,1)" font-size="30.64" font-weight="bold" fill="#333" stroke="#333" stroke-width="0.8">nd</text>
<rect x="1079.55" y="713.35" width="45.10" height="25.70" fill="#808080" stroke="#000" stroke-width="4.3"/>
<rect x="1078.75" y="752.35" width="45.90" height="24.90" fill="#fff" stroke="#000" stroke-width="4.3"/>
<text class="e" transform="translate(1136.21,735.10) scale(1.1226,1)" font-size="32.3" font-weight="bold" fill="#000" >db/db</text>
<text class="e" transform="translate(1136.23,776.70) scale(1.1073,1)" font-size="32.3" font-weight="bold" fill="#000" >db/+</text>
<text class="e" transform="translate(843.11,1242.45) scale(1.0997,1)" font-size="33.74" font-weight="bold" fill="#000" >age of mice [weeks]</text>
<rect x="1446.30" y="989.40" width="29.70" height="180.00" fill="#fff" stroke="#000" stroke-width="5"/>
<rect x="1562.90" y="1003.60" width="29.60" height="165.80" fill="#fff" stroke="#000" stroke-width="5"/>
<rect x="1680.30" y="982.30" width="29.30" height="187.10" fill="#fff" stroke="#000" stroke-width="5"/>
<rect x="1797.30" y="989.40" width="29.10" height="180.00" fill="#fff" stroke="#000" stroke-width="5"/>
<rect x="1478.00" y="840.10" width="40.30" height="329.30" fill="#000"/>
<rect x="1594.50" y="867.20" width="40.80" height="302.20" fill="#000"/>
<rect x="1711.60" y="853.80" width="40.60" height="315.60" fill="#000"/>
<rect x="1828.60" y="853.80" width="40.40" height="315.60" fill="#000"/>
<line x1="1460.90" y1="969.80" x2="1460.90" y2="1010.30" stroke="#000" stroke-width="4.8" stroke-linecap="butt"/>
<line x1="1456.15" y1="969.80" x2="1465.65" y2="969.80" stroke="#000" stroke-width="4.8" stroke-linecap="butt"/>
<line x1="1456.15" y1="1010.30" x2="1465.65" y2="1010.30" stroke="#000" stroke-width="4.8" stroke-linecap="butt"/>
<line x1="1578.30" y1="977.00" x2="1578.30" y2="1030.80" stroke="#000" stroke-width="4.8" stroke-linecap="butt"/>
<line x1="1573.55" y1="977.00" x2="1583.05" y2="977.00" stroke="#000" stroke-width="4.8" stroke-linecap="butt"/>
<line x1="1573.55" y1="1030.80" x2="1583.05" y2="1030.80" stroke="#000" stroke-width="4.8" stroke-linecap="butt"/>
<line x1="1695.40" y1="963.70" x2="1695.40" y2="1004.80" stroke="#000" stroke-width="4.8" stroke-linecap="butt"/>
<line x1="1690.65" y1="963.70" x2="1700.15" y2="963.70" stroke="#000" stroke-width="4.8" stroke-linecap="butt"/>
<line x1="1690.65" y1="1004.80" x2="1700.15" y2="1004.80" stroke="#000" stroke-width="4.8" stroke-linecap="butt"/>
<line x1="1811.90" y1="963.70" x2="1811.90" y2="1016.70" stroke="#000" stroke-width="4.8" stroke-linecap="butt"/>
<line x1="1807.15" y1="963.70" x2="1816.65" y2="963.70" stroke="#000" stroke-width="4.8" stroke-linecap="butt"/>
<line x1="1807.15" y1="1016.70" x2="1816.65" y2="1016.70" stroke="#000" stroke-width="4.8" stroke-linecap="butt"/>
<line x1="1498.80" y1="830.20" x2="1498.80" y2="900.00" stroke="#000" stroke-width="4.8" stroke-linecap="butt"/>
<line x1="1494.05" y1="830.20" x2="1503.55" y2="830.20" stroke="#000" stroke-width="5" stroke-linecap="butt"/>
<line x1="1615.80" y1="849.90" x2="1615.80" y2="900.00" stroke="#000" stroke-width="4.8" stroke-linecap="butt"/>
<line x1="1611.05" y1="849.90" x2="1620.55" y2="849.90" stroke="#000" stroke-width="5" stroke-linecap="butt"/>
<line x1="1732.50" y1="830.20" x2="1732.50" y2="900.00" stroke="#000" stroke-width="4.8" stroke-linecap="butt"/>
<line x1="1727.75" y1="830.20" x2="1737.25" y2="830.20" stroke="#000" stroke-width="5" stroke-linecap="butt"/>
<line x1="1849.00" y1="823.90" x2="1849.00" y2="900.00" stroke="#000" stroke-width="4.8" stroke-linecap="butt"/>
<line x1="1844.25" y1="823.90" x2="1853.75" y2="823.90" stroke="#000" stroke-width="5" stroke-linecap="butt"/>
<rect x="1422.70" y="703.30" width="467.50" height="466.10" fill="none" stroke="#000" stroke-width="5.2"/>
<line x1="1414.00" y1="1169.40" x2="1422.70" y2="1169.40" stroke="#000" stroke-width="4.6" stroke-linecap="butt"/>
<line x1="1890.40" y1="1169.40" x2="1881.70" y2="1169.40" stroke="#000" stroke-width="4.6" stroke-linecap="butt"/>
<line x1="1414.00" y1="1102.82" x2="1422.70" y2="1102.82" stroke="#000" stroke-width="4.6" stroke-linecap="butt"/>
<line x1="1890.40" y1="1102.82" x2="1881.70" y2="1102.82" stroke="#000" stroke-width="4.6" stroke-linecap="butt"/>
<line x1="1414.00" y1="1036.24" x2="1422.70" y2="1036.24" stroke="#000" stroke-width="4.6" stroke-linecap="butt"/>
<line x1="1890.40" y1="1036.24" x2="1881.70" y2="1036.24" stroke="#000" stroke-width="4.6" stroke-linecap="butt"/>
<line x1="1414.00" y1="969.66" x2="1422.70" y2="969.66" stroke="#000" stroke-width="4.6" stroke-linecap="butt"/>
<line x1="1890.40" y1="969.66" x2="1881.70" y2="969.66" stroke="#000" stroke-width="4.6" stroke-linecap="butt"/>
<line x1="1414.00" y1="903.08" x2="1422.70" y2="903.08" stroke="#000" stroke-width="4.6" stroke-linecap="butt"/>
<line x1="1890.40" y1="903.08" x2="1881.70" y2="903.08" stroke="#000" stroke-width="4.6" stroke-linecap="butt"/>
<line x1="1414.00" y1="836.50" x2="1422.70" y2="836.50" stroke="#000" stroke-width="4.6" stroke-linecap="butt"/>
<line x1="1890.40" y1="836.50" x2="1881.70" y2="836.50" stroke="#000" stroke-width="4.6" stroke-linecap="butt"/>
<line x1="1414.00" y1="769.92" x2="1422.70" y2="769.92" stroke="#000" stroke-width="4.6" stroke-linecap="butt"/>
<line x1="1890.40" y1="769.92" x2="1881.70" y2="769.92" stroke="#000" stroke-width="4.6" stroke-linecap="butt"/>
<line x1="1414.00" y1="703.34" x2="1422.70" y2="703.34" stroke="#000" stroke-width="4.6" stroke-linecap="butt"/>
<line x1="1890.40" y1="703.34" x2="1881.70" y2="703.34" stroke="#000" stroke-width="4.6" stroke-linecap="butt"/>
<line x1="1417.50" y1="1136.11" x2="1422.70" y2="1136.11" stroke="#000" stroke-width="4.6" stroke-linecap="butt"/>
<line x1="1890.40" y1="1136.11" x2="1885.20" y2="1136.11" stroke="#000" stroke-width="4.6" stroke-linecap="butt"/>
<line x1="1417.50" y1="1069.53" x2="1422.70" y2="1069.53" stroke="#000" stroke-width="4.6" stroke-linecap="butt"/>
<line x1="1890.40" y1="1069.53" x2="1885.20" y2="1069.53" stroke="#000" stroke-width="4.6" stroke-linecap="butt"/>
<line x1="1417.50" y1="1002.95" x2="1422.70" y2="1002.95" stroke="#000" stroke-width="4.6" stroke-linecap="butt"/>
<line x1="1890.40" y1="1002.95" x2="1885.20" y2="1002.95" stroke="#000" stroke-width="4.6" stroke-linecap="butt"/>
<line x1="1417.50" y1="936.37" x2="1422.70" y2="936.37" stroke="#000" stroke-width="4.6" stroke-linecap="butt"/>
<line x1="1890.40" y1="936.37" x2="1885.20" y2="936.37" stroke="#000" stroke-width="4.6" stroke-linecap="butt"/>
<line x1="1417.50" y1="869.79" x2="1422.70" y2="869.79" stroke="#000" stroke-width="4.6" stroke-linecap="butt"/>
<line x1="1890.40" y1="869.79" x2="1885.20" y2="869.79" stroke="#000" stroke-width="4.6" stroke-linecap="butt"/>
<line x1="1417.50" y1="803.21" x2="1422.70" y2="803.21" stroke="#000" stroke-width="4.6" stroke-linecap="butt"/>
<line x1="1890.40" y1="803.21" x2="1885.20" y2="803.21" stroke="#000" stroke-width="4.6" stroke-linecap="butt"/>
<line x1="1417.50" y1="736.63" x2="1422.70" y2="736.63" stroke="#000" stroke-width="4.6" stroke-linecap="butt"/>
<line x1="1890.40" y1="736.63" x2="1885.20" y2="736.63" stroke="#000" stroke-width="4.6" stroke-linecap="butt"/>
<line x1="1482.20" y1="1169.40" x2="1482.20" y2="1178.10" stroke="#000" stroke-width="4.6" stroke-linecap="butt"/>
<line x1="1482.20" y1="703.30" x2="1482.20" y2="712.00" stroke="#000" stroke-width="4.6" stroke-linecap="butt"/>
<line x1="1597.30" y1="1169.40" x2="1597.30" y2="1178.10" stroke="#000" stroke-width="4.6" stroke-linecap="butt"/>
<line x1="1597.30" y1="703.30" x2="1597.30" y2="712.00" stroke="#000" stroke-width="4.6" stroke-linecap="butt"/>
<line x1="1713.80" y1="1169.40" x2="1713.80" y2="1178.10" stroke="#000" stroke-width="4.6" stroke-linecap="butt"/>
<line x1="1713.80" y1="703.30" x2="1713.80" y2="712.00" stroke="#000" stroke-width="4.6" stroke-linecap="butt"/>
<line x1="1830.40" y1="1169.40" x2="1830.40" y2="1178.10" stroke="#000" stroke-width="4.6" stroke-linecap="butt"/>
<line x1="1830.40" y1="703.30" x2="1830.40" y2="712.00" stroke="#000" stroke-width="4.6" stroke-linecap="butt"/>
<line x1="1424.20" y1="1169.40" x2="1424.20" y2="1174.60" stroke="#000" stroke-width="4.6" stroke-linecap="butt"/>
<line x1="1424.20" y1="703.30" x2="1424.20" y2="708.50" stroke="#000" stroke-width="4.6" stroke-linecap="butt"/>
<line x1="1539.80" y1="1169.40" x2="1539.80" y2="1174.60" stroke="#000" stroke-width="4.6" stroke-linecap="butt"/>
<line x1="1539.80" y1="703.30" x2="1539.80" y2="708.50" stroke="#000" stroke-width="4.6" stroke-linecap="butt"/>
<line x1="1655.50" y1="1169.40" x2="1655.50" y2="1174.60" stroke="#000" stroke-width="4.6" stroke-linecap="butt"/>
<line x1="1655.50" y1="703.30" x2="1655.50" y2="708.50" stroke="#000" stroke-width="4.6" stroke-linecap="butt"/>
<line x1="1772.10" y1="1169.40" x2="1772.10" y2="1174.60" stroke="#000" stroke-width="4.6" stroke-linecap="butt"/>
<line x1="1772.10" y1="703.30" x2="1772.10" y2="708.50" stroke="#000" stroke-width="4.6" stroke-linecap="butt"/>
<line x1="1888.40" y1="1169.40" x2="1888.40" y2="1174.60" stroke="#000" stroke-width="4.6" stroke-linecap="butt"/>
<line x1="1888.40" y1="703.30" x2="1888.40" y2="708.50" stroke="#000" stroke-width="4.6" stroke-linecap="butt"/>
<text class="e" transform="translate(1389.01,1177.67) scale(1.0445,1)" font-size="33.62" font-weight="bold" fill="#000" >0</text>
<text class="e" transform="translate(1374.03,1110.99) scale(1.0223,1)" font-size="33.76" font-weight="bold" fill="#000" >10</text>
<text class="e" transform="translate(1375.04,1044.41) scale(0.9944,1)" font-size="33.76" font-weight="bold" fill="#000" >20</text>
<text class="e" transform="translate(1375.44,977.78) scale(0.9853,1)" font-size="33.69" font-weight="bold" fill="#000" >30</text>
<text class="e" transform="translate(1375.70,911.25) scale(0.9760,1)" font-size="33.76" font-weight="bold" fill="#000" >40</text>
<text class="e" transform="translate(1375.17,844.67) scale(0.9907,1)" font-size="33.76" font-weight="bold" fill="#000" >50</text>
<text class="e" transform="translate(1374.97,778.09) scale(0.9963,1)" font-size="33.76" font-weight="bold" fill="#000" >60</text>
<text class="e" transform="translate(1467.65,1207.50) scale(0.8139,1)" font-size="34.16" font-weight="bold" fill="#000" >11</text>
<text class="e" transform="translate(1582.37,1207.50) scale(1.0038,1)" font-size="33.66" font-weight="bold" fill="#000" >12</text>
<text class="e" transform="translate(1700.38,1207.18) scale(1.0140,1)" font-size="33.19" font-weight="bold" fill="#000" >16</text>
<text class="e" transform="translate(1816.79,1207.18) scale(1.0567,1)" font-size="33.19" font-weight="bold" fill="#000" >19</text>
<text transform="translate(1488.88,829.50) scale(1.0650,1)" font-size="39.24" font-weight="bold" fill="#000" stroke="#000" stroke-width="0.6">*</text>
<text transform="translate(1605.88,850.11) scale(1.0524,1)" font-size="38.97" font-weight="bold" fill="#000" stroke="#000" stroke-width="0.6">*</text>
<text transform="translate(1722.88,831.30) scale(1.0253,1)" font-size="39.24" font-weight="bold" fill="#000" stroke="#000" stroke-width="0.6">*</text>
<text transform="translate(1839.58,823.70) scale(1.0452,1)" font-size="39.24" font-weight="bold" fill="#000" stroke="#000" stroke-width="0.6">*</text>
<rect x="1439.35" y="714.45" width="51.30" height="25.40" fill="#fff" stroke="#000" stroke-width="4.5"/>
<rect x="1437.10" y="747.10" width="55.80" height="30.00" fill="#000"/>
<text class="e" transform="translate(1498.88,741.00) scale(1.0620,1)" font-size="32.5" font-weight="bold" fill="#000" >db/+</text>
<text class="e" transform="translate(1498.88,771.00) scale(1.0633,1)" font-size="32.5" font-weight="bold" fill="#000" >db/db</text>
<text class="e" transform="translate(1335.62,1080.57) rotate(-90) scale(1.0084,1)" font-size="38.6" font-weight="bold" fill="#231f20">body weight [g]</text>
<text class="e" transform="translate(1492.51,1245.54) scale(1.1162,1)" font-size="33.31" font-weight="bold" fill="#000" >age of mice [weeks]</text>
<g transform="translate(702.2,1083.1) rotate(-90)"><text class="e" transform="translate(-1.11,0.00) scale(1.0092,1)" font-size="37" font-weight="normal" style="font-family:'Liberation Sans', Arial, Helvetica, sans-serif" fill="#000">Δ</text><text class="e" transform="translate(22.94,0.00) scale(0.9806,1)" font-size="39" font-weight="bold" style="font-family:'Liberation Sans', Arial, Helvetica, sans-serif" fill="#000">NO</text><text class="e" transform="translate(80.72,7.90) scale(1.0503,1)" font-size="18.6" font-weight="normal" style="font-family:'Liberation Sans', Arial, Helvetica, sans-serif" fill="#000">2</text><text class="e" transform="translate(93.22,0.00) scale(1.0058,1)" font-size="39" font-weight="bold" style="font-family:'Liberation Sans', Arial, Helvetica, sans-serif" fill="#000">/W</text><text class="e" transform="translate(140.46,7.90) scale(0.9495,1)" font-size="18.9" font-weight="normal" style="font-family:'Liberation Sans', Arial, Helvetica, sans-serif" fill="#000">A</text><text class="e" transform="translate(165.88,0.00) scale(0.9572,1)" font-size="37.5" font-weight="bold" style="font-family:'Liberation Sans', Arial, Helvetica, sans-serif" fill="#000">[</text><text class="e" transform="translate(177.90,0.00) scale(1.2010,1)" font-size="37" font-weight="normal" style="font-family:'Liberation Serif', serif" fill="#000">μ</text><text class="e" transform="translate(201.53,0.00) scale(0.9991,1)" font-size="38.5" font-weight="bold" style="font-family:'Liberation Sans', Arial, Helvetica, sans-serif" fill="#000">M/mg]</text></g>
</svg>
</body></html>
